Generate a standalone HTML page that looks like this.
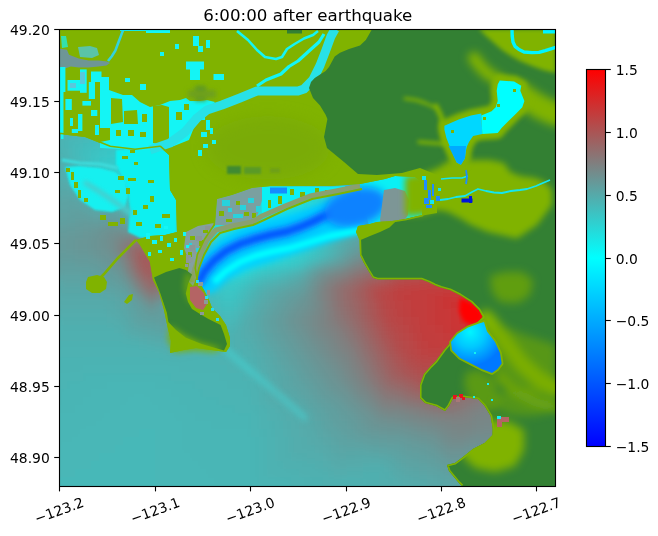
<!DOCTYPE html><html><head><meta charset="utf-8"><style>html,body{margin:0;padding:0;background:#fff;overflow:hidden}svg{display:block}text{font-family:"DejaVu Sans","Liberation Sans",sans-serif;fill:#000}</style></head><body>
<svg width="658" height="536" viewBox="0 0 658 536">
<defs><clipPath id="ax"><rect x="59" y="29" width="496.5" height="457"/></clipPath>
<filter id="b5" filterUnits="userSpaceOnUse" x="0" y="0" width="658" height="536"><feGaussianBlur stdDeviation="5"/></filter>
<filter id="b2" filterUnits="userSpaceOnUse" x="0" y="0" width="658" height="536"><feGaussianBlur stdDeviation="2"/></filter>
<filter id="b4" filterUnits="userSpaceOnUse" x="0" y="0" width="658" height="536"><feGaussianBlur stdDeviation="4"/></filter>
<filter id="b1" filterUnits="userSpaceOnUse" x="0" y="0" width="658" height="536"><feGaussianBlur stdDeviation="1"/></filter>
<filter id="b3" filterUnits="userSpaceOnUse" x="0" y="0" width="658" height="536"><feGaussianBlur stdDeviation="3"/></filter>
<filter id="b8" filterUnits="userSpaceOnUse" x="0" y="0" width="658" height="536"><feGaussianBlur stdDeviation="8"/></filter>
<linearGradient id="cb" x1="0" y1="1" x2="0" y2="0"><stop offset="0" stop-color="#0000ff"/><stop offset="0.5" stop-color="#00ffff"/><stop offset="1" stop-color="#ff0000"/></linearGradient>
<radialGradient id="bayg" gradientUnits="userSpaceOnUse" cx="470" cy="332" r="34"><stop offset="0" stop-color="#00f5ff"/><stop offset="0.45" stop-color="#00c8ff"/><stop offset="1" stop-color="#0078ff"/></radialGradient>
<clipPath id="landclip"><path d="M59 29 L556 29 L556 486 L462 486 L459 483 L449 471 L447 465 L455 463 L463 457 L473 449 L484.7 443 L492.6 435 L492.8 428.8 L490.7 416 L484.4 405.6 L478 399 L463 397 L453 398 L449 406 L445 411 L436 406 L425 403 L420 398 L420 385 L424 374 L431 366 L436 361 L444 350 L451 342 L457.5 334 L466 327 L476 323.5 L483 317 L479 310 L471 302 L460 295 L450 290 L441 287.6 L435 285.3 L429 282.3 L421.4 279.3 L377.4 279.3 L372.8 277.8 L368 270 L363.7 262.5 L360 255 L359.5 240 L356 232 L358 226 L370 224 L377 222 L392 221 L405 219 L422 215 L422 182 L415 177 L395 176 L385 179 L360 184 L330 186 L300 186 L270 186 L252 188 L232 195 L217 199 L215 225 L205 240 L198 255 L196 268 L198 280 L204 290 L209 300 L212 308 L220 316 L226 325 L230 338 L230 346 L226 352 L211 350 L196 348 L184 350 L170 353 L171 341 L168 329 L164 310 L159 292 L153 280 L150 262 L140 245 L136 240 L150 236 L165 235 L177 232 L176 200 L170 190 L169 155 L160 147 L135 150 L110 147 L85 137 L59 134Z"/></clipPath>
</defs>
<rect width="658" height="536" fill="#fff"/>
<g clip-path="url(#ax)">
<g filter="url(#b5)"><path fill="#33cccc" d="M43 13h8v8h-8zM51 13h8v8h-8zM59 13h8v8h-8zM67 13h8v8h-8zM75 13h8v8h-8zM83 13h8v8h-8zM91 13h8v8h-8zM99 13h8v8h-8zM107 13h8v8h-8zM115 13h8v8h-8zM123 13h8v8h-8zM131 13h8v8h-8zM139 13h8v8h-8zM147 13h8v8h-8zM155 13h8v8h-8zM163 13h8v8h-8zM171 13h8v8h-8zM179 13h8v8h-8zM187 13h8v8h-8zM195 13h8v8h-8zM203 13h8v8h-8zM211 13h8v8h-8zM219 13h8v8h-8zM227 13h8v8h-8zM235 13h8v8h-8zM243 13h8v8h-8zM251 13h8v8h-8zM259 13h8v8h-8zM267 13h8v8h-8zM275 13h8v8h-8zM283 13h8v8h-8zM291 13h8v8h-8zM299 13h8v8h-8zM307 13h8v8h-8zM315 13h8v8h-8zM323 13h8v8h-8zM331 13h8v8h-8zM339 13h8v8h-8zM347 13h8v8h-8zM355 13h8v8h-8zM363 13h8v8h-8zM371 13h8v8h-8zM379 13h8v8h-8zM387 13h8v8h-8zM395 13h8v8h-8zM403 13h8v8h-8zM411 13h8v8h-8zM419 13h8v8h-8zM427 13h8v8h-8zM435 13h8v8h-8zM443 13h8v8h-8zM451 13h8v8h-8zM459 13h8v8h-8zM467 13h8v8h-8zM475 13h8v8h-8zM483 13h8v8h-8zM491 13h8v8h-8zM499 13h8v8h-8zM507 13h8v8h-8zM515 13h8v8h-8zM523 13h8v8h-8zM531 13h8v8h-8zM539 13h8v8h-8zM547 13h8v8h-8zM555 13h8v8h-8zM563 13h8v8h-8zM571 13h8v8h-8zM43 21h8v8h-8zM51 21h8v8h-8zM59 21h8v8h-8zM67 21h8v8h-8zM75 21h8v8h-8zM83 21h8v8h-8zM91 21h8v8h-8zM99 21h8v8h-8zM107 21h8v8h-8zM115 21h8v8h-8zM123 21h8v8h-8zM131 21h8v8h-8zM139 21h8v8h-8zM147 21h8v8h-8zM155 21h8v8h-8zM163 21h8v8h-8zM171 21h8v8h-8zM179 21h8v8h-8zM187 21h8v8h-8zM195 21h8v8h-8zM203 21h8v8h-8zM211 21h8v8h-8zM219 21h8v8h-8zM227 21h8v8h-8zM235 21h8v8h-8zM243 21h8v8h-8zM251 21h8v8h-8zM259 21h8v8h-8zM267 21h8v8h-8zM275 21h8v8h-8zM283 21h8v8h-8zM291 21h8v8h-8zM299 21h8v8h-8zM307 21h8v8h-8zM315 21h8v8h-8zM323 21h8v8h-8zM331 21h8v8h-8zM339 21h8v8h-8zM347 21h8v8h-8zM355 21h8v8h-8zM363 21h8v8h-8zM371 21h8v8h-8zM379 21h8v8h-8zM387 21h8v8h-8zM395 21h8v8h-8zM403 21h8v8h-8zM411 21h8v8h-8zM419 21h8v8h-8zM427 21h8v8h-8zM435 21h8v8h-8zM443 21h8v8h-8zM451 21h8v8h-8zM459 21h8v8h-8zM467 21h8v8h-8zM475 21h8v8h-8zM483 21h8v8h-8zM491 21h8v8h-8zM499 21h8v8h-8zM507 21h8v8h-8zM515 21h8v8h-8zM523 21h8v8h-8zM531 21h8v8h-8zM539 21h8v8h-8zM547 21h8v8h-8zM555 21h8v8h-8zM563 21h8v8h-8zM571 21h8v8h-8zM43 29h8v8h-8zM51 29h8v8h-8zM59 29h8v8h-8zM67 29h8v8h-8zM75 29h8v8h-8zM83 29h8v8h-8zM91 29h8v8h-8zM99 29h8v8h-8zM107 29h8v8h-8zM115 29h8v8h-8zM123 29h8v8h-8zM131 29h8v8h-8zM139 29h8v8h-8zM147 29h8v8h-8zM155 29h8v8h-8zM163 29h8v8h-8zM171 29h8v8h-8zM179 29h8v8h-8zM187 29h8v8h-8zM195 29h8v8h-8zM203 29h8v8h-8zM211 29h8v8h-8zM219 29h8v8h-8zM227 29h8v8h-8zM235 29h8v8h-8zM243 29h8v8h-8zM251 29h8v8h-8zM259 29h8v8h-8zM267 29h8v8h-8zM275 29h8v8h-8zM283 29h8v8h-8zM291 29h8v8h-8zM555 29h8v8h-8zM563 29h8v8h-8zM571 29h8v8h-8zM43 37h8v8h-8zM51 37h8v8h-8zM75 37h8v8h-8zM83 37h8v8h-8zM91 37h8v8h-8zM99 37h8v8h-8zM107 37h8v8h-8zM115 37h8v8h-8zM123 37h8v8h-8zM131 37h8v8h-8zM139 37h8v8h-8zM147 37h8v8h-8zM155 37h8v8h-8zM163 37h8v8h-8zM171 37h8v8h-8zM179 37h8v8h-8zM187 37h8v8h-8zM195 37h8v8h-8zM203 37h8v8h-8zM211 37h8v8h-8zM219 37h8v8h-8zM227 37h8v8h-8zM235 37h8v8h-8zM243 37h8v8h-8zM251 37h8v8h-8zM259 37h8v8h-8zM267 37h8v8h-8zM275 37h8v8h-8zM283 37h8v8h-8zM299 37h8v8h-8zM555 37h8v8h-8zM563 37h8v8h-8zM571 37h8v8h-8zM43 45h8v8h-8zM51 45h8v8h-8zM91 45h8v8h-8zM99 45h8v8h-8zM107 45h8v8h-8zM115 45h8v8h-8zM123 45h8v8h-8zM131 45h8v8h-8zM139 45h8v8h-8zM147 45h8v8h-8zM155 45h8v8h-8zM163 45h8v8h-8zM171 45h8v8h-8zM179 45h8v8h-8zM187 45h8v8h-8zM195 45h8v8h-8zM203 45h8v8h-8zM211 45h8v8h-8zM219 45h8v8h-8zM227 45h8v8h-8zM235 45h8v8h-8zM243 45h8v8h-8zM251 45h8v8h-8zM259 45h8v8h-8zM267 45h8v8h-8zM299 45h8v8h-8zM555 45h8v8h-8zM563 45h8v8h-8zM571 45h8v8h-8zM43 53h8v8h-8zM51 53h8v8h-8zM107 53h8v8h-8zM115 53h8v8h-8zM123 53h8v8h-8zM131 53h8v8h-8zM139 53h8v8h-8zM147 53h8v8h-8zM155 53h8v8h-8zM163 53h8v8h-8zM171 53h8v8h-8zM179 53h8v8h-8zM187 53h8v8h-8zM195 53h8v8h-8zM203 53h8v8h-8zM211 53h8v8h-8zM219 53h8v8h-8zM227 53h8v8h-8zM235 53h8v8h-8zM243 53h8v8h-8zM251 53h8v8h-8zM259 53h8v8h-8zM555 53h8v8h-8zM563 53h8v8h-8zM571 53h8v8h-8zM43 61h8v8h-8zM51 61h8v8h-8zM123 61h8v8h-8zM131 61h8v8h-8zM139 61h8v8h-8zM147 61h8v8h-8zM155 61h8v8h-8zM163 61h8v8h-8zM171 61h8v8h-8zM179 61h8v8h-8zM187 61h8v8h-8zM195 61h8v8h-8zM203 61h8v8h-8zM211 61h8v8h-8zM219 61h8v8h-8zM227 61h8v8h-8zM235 61h8v8h-8zM243 61h8v8h-8zM251 61h8v8h-8zM555 61h8v8h-8zM563 61h8v8h-8zM571 61h8v8h-8zM43 69h8v8h-8zM51 69h8v8h-8zM139 69h8v8h-8zM147 69h8v8h-8zM155 69h8v8h-8zM163 69h8v8h-8zM171 69h8v8h-8zM179 69h8v8h-8zM187 69h8v8h-8zM195 69h8v8h-8zM203 69h8v8h-8zM211 69h8v8h-8zM219 69h8v8h-8zM227 69h8v8h-8zM235 69h8v8h-8zM555 69h8v8h-8zM563 69h8v8h-8zM571 69h8v8h-8zM43 77h8v8h-8zM51 77h8v8h-8zM155 77h8v8h-8zM163 77h8v8h-8zM171 77h8v8h-8zM179 77h8v8h-8zM187 77h8v8h-8zM195 77h8v8h-8zM203 77h8v8h-8zM211 77h8v8h-8zM219 77h8v8h-8zM227 77h8v8h-8zM307 77h8v8h-8zM555 77h8v8h-8zM563 77h8v8h-8zM571 77h8v8h-8zM171 85h8v8h-8zM179 85h8v8h-8zM187 85h8v8h-8zM195 85h8v8h-8zM203 85h8v8h-8zM211 85h8v8h-8zM307 85h8v8h-8zM555 85h8v8h-8zM563 85h8v8h-8zM571 85h8v8h-8zM187 93h8v8h-8zM195 93h8v8h-8zM203 93h8v8h-8zM179 109h8v8h-8zM171 117h8v8h-8zM315 125h8v8h-8zM147 133h8v8h-8zM139 141h8v8h-8zM107 165h8v8h-8zM323 165h8v8h-8zM195 213h8v8h-8zM307 229h8v8h-8z"/>
<path fill="#34cbcb" d="M299 29h8v8h-8zM307 29h8v8h-8zM315 29h8v8h-8zM323 29h8v8h-8zM331 29h8v8h-8zM339 29h8v8h-8zM347 29h8v8h-8zM355 29h8v8h-8zM363 29h8v8h-8zM371 29h8v8h-8zM379 29h8v8h-8zM387 29h8v8h-8zM395 29h8v8h-8zM403 29h8v8h-8zM411 29h8v8h-8zM419 29h8v8h-8zM427 29h8v8h-8zM435 29h8v8h-8zM443 29h8v8h-8zM451 29h8v8h-8zM459 29h8v8h-8zM467 29h8v8h-8zM475 29h8v8h-8zM483 29h8v8h-8zM491 29h8v8h-8zM499 29h8v8h-8zM507 29h8v8h-8zM515 29h8v8h-8zM523 29h8v8h-8zM531 29h8v8h-8zM539 29h8v8h-8zM547 29h8v8h-8zM67 37h8v8h-8zM83 45h8v8h-8zM99 53h8v8h-8zM115 61h8v8h-8zM131 69h8v8h-8zM307 69h8v8h-8zM147 77h8v8h-8zM163 85h8v8h-8zM179 93h8v8h-8zM187 101h8v8h-8zM315 109h8v8h-8zM315 117h8v8h-8zM155 125h8v8h-8zM123 149h8v8h-8zM323 149h8v8h-8zM115 157h8v8h-8zM323 157h8v8h-8zM203 229h8v8h-8zM299 253h8v8h-8zM251 269h8v8h-8zM235 277h8v8h-8z"/>
<path fill="#35caca" d="M59 37h8v8h-8zM307 37h8v8h-8zM315 37h8v8h-8zM323 37h8v8h-8zM331 37h8v8h-8zM339 37h8v8h-8zM347 37h8v8h-8zM355 37h8v8h-8zM363 37h8v8h-8zM371 37h8v8h-8zM379 37h8v8h-8zM387 37h8v8h-8zM395 37h8v8h-8zM403 37h8v8h-8zM411 37h8v8h-8zM419 37h8v8h-8zM427 37h8v8h-8zM435 37h8v8h-8zM443 37h8v8h-8zM451 37h8v8h-8zM459 37h8v8h-8zM467 37h8v8h-8zM475 37h8v8h-8zM483 37h8v8h-8zM491 37h8v8h-8zM499 37h8v8h-8zM507 37h8v8h-8zM515 37h8v8h-8zM523 37h8v8h-8zM531 37h8v8h-8zM539 37h8v8h-8zM547 37h8v8h-8zM75 45h8v8h-8zM91 53h8v8h-8zM107 61h8v8h-8zM307 61h8v8h-8zM123 69h8v8h-8zM139 77h8v8h-8zM155 85h8v8h-8zM171 93h8v8h-8zM315 101h8v8h-8zM171 109h8v8h-8zM163 117h8v8h-8zM131 141h8v8h-8zM323 141h8v8h-8zM331 181h8v8h-8zM331 189h8v8h-8zM331 197h8v8h-8zM307 237h8v8h-8zM283 261h8v8h-8z"/>
<path fill="#32cdcd" d="M291 37h8v8h-8zM275 45h8v8h-8zM283 45h8v8h-8zM267 53h8v8h-8zM275 53h8v8h-8zM299 53h8v8h-8zM259 61h8v8h-8zM243 69h8v8h-8zM251 69h8v8h-8zM235 77h8v8h-8zM243 77h8v8h-8zM219 85h8v8h-8zM227 85h8v8h-8zM211 93h8v8h-8zM219 93h8v8h-8zM307 93h8v8h-8zM195 101h8v8h-8zM203 101h8v8h-8zM163 125h8v8h-8zM155 133h8v8h-8zM315 133h8v8h-8zM131 149h8v8h-8zM123 157h8v8h-8zM323 173h8v8h-8zM315 205h8v8h-8zM299 245h8v8h-8zM275 261h8v8h-8z"/>
<path fill="#37c8c8" d="M59 45h8v8h-8zM307 45h8v8h-8zM315 45h8v8h-8zM323 45h8v8h-8zM331 45h8v8h-8zM339 45h8v8h-8zM347 45h8v8h-8zM355 45h8v8h-8zM363 45h8v8h-8zM371 45h8v8h-8zM379 45h8v8h-8zM387 45h8v8h-8zM395 45h8v8h-8zM403 45h8v8h-8zM411 45h8v8h-8zM419 45h8v8h-8zM427 45h8v8h-8zM435 45h8v8h-8zM443 45h8v8h-8zM451 45h8v8h-8zM459 45h8v8h-8zM467 45h8v8h-8zM475 45h8v8h-8zM483 45h8v8h-8zM491 45h8v8h-8zM499 45h8v8h-8zM507 45h8v8h-8zM515 45h8v8h-8zM523 45h8v8h-8zM531 45h8v8h-8zM539 45h8v8h-8zM75 53h8v8h-8zM547 53h8v8h-8zM91 61h8v8h-8zM107 69h8v8h-8zM123 77h8v8h-8zM139 85h8v8h-8zM315 85h8v8h-8zM155 93h8v8h-8zM171 101h8v8h-8zM155 117h8v8h-8zM323 125h8v8h-8zM123 141h8v8h-8zM115 149h8v8h-8zM99 165h8v8h-8zM331 165h8v8h-8zM131 197h8v8h-8zM187 205h8v8h-8zM315 213h8v8h-8z"/>
<path fill="#36c9c9" d="M67 45h8v8h-8zM547 45h8v8h-8zM83 53h8v8h-8zM307 53h8v8h-8zM99 61h8v8h-8zM115 69h8v8h-8zM131 77h8v8h-8zM147 85h8v8h-8zM163 93h8v8h-8zM315 93h8v8h-8zM179 101h8v8h-8zM147 125h8v8h-8zM139 133h8v8h-8zM323 133h8v8h-8zM107 157h8v8h-8zM331 173h8v8h-8zM139 205h8v8h-8zM323 205h8v8h-8zM211 245h8v8h-8zM227 285h8v8h-8z"/>
<path fill="#31cece" d="M291 45h8v8h-8zM283 53h8v8h-8zM291 53h8v8h-8zM267 61h8v8h-8zM275 61h8v8h-8zM299 61h8v8h-8zM259 69h8v8h-8zM267 69h8v8h-8zM251 77h8v8h-8zM235 85h8v8h-8zM243 85h8v8h-8zM227 93h8v8h-8zM235 93h8v8h-8zM211 101h8v8h-8zM219 101h8v8h-8zM307 101h8v8h-8zM187 109h8v8h-8zM195 109h8v8h-8zM203 109h8v8h-8zM211 109h8v8h-8zM179 117h8v8h-8zM147 141h8v8h-8zM315 141h8v8h-8zM139 149h8v8h-8zM115 165h8v8h-8zM323 181h8v8h-8zM307 221h8v8h-8zM219 253h8v8h-8zM227 277h8v8h-8z"/>
<path fill="#39c6c6" d="M59 53h8v8h-8zM315 53h8v8h-8zM323 53h8v8h-8zM331 53h8v8h-8zM339 53h8v8h-8zM347 53h8v8h-8zM355 53h8v8h-8zM363 53h8v8h-8zM371 53h8v8h-8zM379 53h8v8h-8zM387 53h8v8h-8zM395 53h8v8h-8zM403 53h8v8h-8zM411 53h8v8h-8zM419 53h8v8h-8zM427 53h8v8h-8zM435 53h8v8h-8zM443 53h8v8h-8zM451 53h8v8h-8zM459 53h8v8h-8zM467 53h8v8h-8zM475 53h8v8h-8zM483 53h8v8h-8zM491 53h8v8h-8zM499 53h8v8h-8zM507 53h8v8h-8zM515 53h8v8h-8zM523 53h8v8h-8zM75 61h8v8h-8zM315 61h8v8h-8zM531 61h8v8h-8zM539 61h8v8h-8zM91 69h8v8h-8zM107 77h8v8h-8zM123 85h8v8h-8zM139 93h8v8h-8zM155 101h8v8h-8zM323 101h8v8h-8zM147 117h8v8h-8zM139 125h8v8h-8zM331 141h8v8h-8zM107 149h8v8h-8zM331 149h8v8h-8zM115 181h8v8h-8zM339 181h8v8h-8zM339 189h8v8h-8zM339 197h8v8h-8zM315 221h8v8h-8z"/>
<path fill="#38c7c7" d="M67 53h8v8h-8zM531 53h8v8h-8zM539 53h8v8h-8zM83 61h8v8h-8zM547 61h8v8h-8zM99 69h8v8h-8zM315 69h8v8h-8zM115 77h8v8h-8zM315 77h8v8h-8zM131 85h8v8h-8zM147 93h8v8h-8zM163 101h8v8h-8zM163 109h8v8h-8zM323 109h8v8h-8zM323 117h8v8h-8zM131 133h8v8h-8zM99 157h8v8h-8zM331 157h8v8h-8zM123 189h8v8h-8zM147 205h8v8h-8zM155 205h8v8h-8zM163 205h8v8h-8zM171 205h8v8h-8zM179 205h8v8h-8zM307 245h8v8h-8zM219 261h8v8h-8zM291 261h8v8h-8zM219 285h8v8h-8z"/>
<path fill="#3bc4c4" d="M59 61h8v8h-8zM75 69h8v8h-8zM523 69h8v8h-8zM531 69h8v8h-8zM91 77h8v8h-8zM539 77h8v8h-8zM547 77h8v8h-8zM107 85h8v8h-8zM323 85h8v8h-8zM123 93h8v8h-8zM139 101h8v8h-8zM131 125h8v8h-8zM331 125h8v8h-8zM99 149h8v8h-8zM91 157h8v8h-8zM339 165h8v8h-8zM323 213h8v8h-8zM203 237h8v8h-8zM315 237h8v8h-8zM243 277h8v8h-8z"/>
<path fill="#3ac5c5" d="M67 61h8v8h-8zM323 61h8v8h-8zM331 61h8v8h-8zM339 61h8v8h-8zM347 61h8v8h-8zM355 61h8v8h-8zM363 61h8v8h-8zM371 61h8v8h-8zM379 61h8v8h-8zM387 61h8v8h-8zM395 61h8v8h-8zM403 61h8v8h-8zM411 61h8v8h-8zM419 61h8v8h-8zM427 61h8v8h-8zM435 61h8v8h-8zM443 61h8v8h-8zM451 61h8v8h-8zM459 61h8v8h-8zM467 61h8v8h-8zM475 61h8v8h-8zM483 61h8v8h-8zM491 61h8v8h-8zM499 61h8v8h-8zM507 61h8v8h-8zM515 61h8v8h-8zM523 61h8v8h-8zM83 69h8v8h-8zM539 69h8v8h-8zM547 69h8v8h-8zM99 77h8v8h-8zM115 85h8v8h-8zM131 93h8v8h-8zM323 93h8v8h-8zM147 101h8v8h-8zM155 109h8v8h-8zM123 133h8v8h-8zM331 133h8v8h-8zM115 141h8v8h-8zM107 173h8v8h-8zM339 173h8v8h-8zM331 205h8v8h-8zM195 221h8v8h-8zM315 229h8v8h-8zM307 253h8v8h-8zM259 269h8v8h-8zM227 293h8v8h-8z"/>
<path fill="#30cfcf" d="M283 61h8v8h-8zM291 61h8v8h-8zM275 69h8v8h-8zM283 69h8v8h-8zM299 69h8v8h-8zM259 77h8v8h-8zM267 77h8v8h-8zM251 85h8v8h-8zM259 85h8v8h-8zM243 93h8v8h-8zM227 101h8v8h-8zM235 101h8v8h-8zM219 109h8v8h-8zM227 109h8v8h-8zM307 109h8v8h-8zM171 125h8v8h-8zM163 133h8v8h-8zM315 149h8v8h-8zM131 157h8v8h-8zM315 157h8v8h-8zM123 165h8v8h-8zM323 189h8v8h-8zM323 197h8v8h-8zM291 253h8v8h-8zM227 269h8v8h-8z"/>
<path fill="#3dc2c2" d="M59 69h8v8h-8zM75 77h8v8h-8zM331 77h8v8h-8zM339 77h8v8h-8zM347 77h8v8h-8zM355 77h8v8h-8zM363 77h8v8h-8zM371 77h8v8h-8zM379 77h8v8h-8zM387 77h8v8h-8zM395 77h8v8h-8zM403 77h8v8h-8zM411 77h8v8h-8zM419 77h8v8h-8zM427 77h8v8h-8zM435 77h8v8h-8zM443 77h8v8h-8zM451 77h8v8h-8zM459 77h8v8h-8zM467 77h8v8h-8zM475 77h8v8h-8zM483 77h8v8h-8zM491 77h8v8h-8zM499 77h8v8h-8zM507 77h8v8h-8zM515 77h8v8h-8zM91 85h8v8h-8zM523 85h8v8h-8zM531 85h8v8h-8zM107 93h8v8h-8zM539 93h8v8h-8zM547 93h8v8h-8zM123 101h8v8h-8zM331 101h8v8h-8zM139 109h8v8h-8zM123 125h8v8h-8zM115 133h8v8h-8zM339 141h8v8h-8zM91 149h8v8h-8zM339 149h8v8h-8zM347 189h8v8h-8zM347 197h8v8h-8zM211 253h8v8h-8zM219 277h8v8h-8zM235 285h8v8h-8z"/>
<path fill="#3cc3c3" d="M67 69h8v8h-8zM323 69h8v8h-8zM331 69h8v8h-8zM339 69h8v8h-8zM347 69h8v8h-8zM355 69h8v8h-8zM363 69h8v8h-8zM371 69h8v8h-8zM379 69h8v8h-8zM387 69h8v8h-8zM395 69h8v8h-8zM403 69h8v8h-8zM411 69h8v8h-8zM419 69h8v8h-8zM427 69h8v8h-8zM435 69h8v8h-8zM443 69h8v8h-8zM451 69h8v8h-8zM459 69h8v8h-8zM467 69h8v8h-8zM475 69h8v8h-8zM483 69h8v8h-8zM491 69h8v8h-8zM499 69h8v8h-8zM507 69h8v8h-8zM515 69h8v8h-8zM83 77h8v8h-8zM323 77h8v8h-8zM523 77h8v8h-8zM531 77h8v8h-8zM99 85h8v8h-8zM539 85h8v8h-8zM547 85h8v8h-8zM115 93h8v8h-8zM131 101h8v8h-8zM147 109h8v8h-8zM331 109h8v8h-8zM139 117h8v8h-8zM331 117h8v8h-8zM107 141h8v8h-8zM339 157h8v8h-8zM91 165h8v8h-8zM99 173h8v8h-8zM219 269h8v8h-8zM219 293h8v8h-8z"/>
<path fill="#2fd0d0" d="M291 69h8v8h-8zM275 77h8v8h-8zM283 77h8v8h-8zM299 77h8v8h-8zM267 85h8v8h-8zM275 85h8v8h-8zM299 85h8v8h-8zM251 93h8v8h-8zM259 93h8v8h-8zM243 101h8v8h-8zM251 101h8v8h-8zM235 109h8v8h-8zM187 117h8v8h-8zM195 117h8v8h-8zM203 117h8v8h-8zM211 117h8v8h-8zM219 117h8v8h-8zM227 117h8v8h-8zM307 117h8v8h-8zM179 125h8v8h-8zM307 125h8v8h-8zM155 141h8v8h-8zM147 149h8v8h-8zM315 165h8v8h-8zM115 173h8v8h-8zM307 213h8v8h-8zM211 237h8v8h-8zM299 237h8v8h-8zM267 261h8v8h-8z"/>
<path fill="#3ec1c1" d="M59 77h8v8h-8zM67 77h8v8h-8zM75 85h8v8h-8zM83 85h8v8h-8zM507 85h8v8h-8zM515 85h8v8h-8zM91 93h8v8h-8zM99 93h8v8h-8zM331 93h8v8h-8zM523 93h8v8h-8zM531 93h8v8h-8zM107 101h8v8h-8zM115 101h8v8h-8zM547 101h8v8h-8zM123 109h8v8h-8zM131 109h8v8h-8zM131 117h8v8h-8zM339 133h8v8h-8zM99 141h8v8h-8zM347 173h8v8h-8zM347 181h8v8h-8zM339 205h8v8h-8zM315 245h8v8h-8zM267 269h8v8h-8zM211 285h8v8h-8zM227 301h8v8h-8z"/>
<path fill="#2ed1d1" d="M291 77h8v8h-8zM283 85h8v8h-8zM267 93h8v8h-8zM275 93h8v8h-8zM299 93h8v8h-8zM259 101h8v8h-8zM243 109h8v8h-8zM251 109h8v8h-8zM235 117h8v8h-8zM243 117h8v8h-8zM187 125h8v8h-8zM195 125h8v8h-8zM203 125h8v8h-8zM211 125h8v8h-8zM219 125h8v8h-8zM227 125h8v8h-8zM171 133h8v8h-8zM307 133h8v8h-8zM163 141h8v8h-8zM139 157h8v8h-8zM131 165h8v8h-8zM315 173h8v8h-8zM123 181h8v8h-8zM291 245h8v8h-8z"/>
<path fill="#4cb2b2" d="M43 85h8v8h-8zM51 85h8v8h-8zM43 93h8v8h-8zM51 93h8v8h-8zM43 101h8v8h-8zM51 101h8v8h-8zM43 109h8v8h-8zM51 109h8v8h-8zM43 117h8v8h-8zM51 117h8v8h-8zM43 125h8v8h-8zM51 125h8v8h-8zM43 133h8v8h-8zM51 133h8v8h-8zM43 141h8v8h-8zM51 141h8v8h-8zM43 149h8v8h-8zM51 149h8v8h-8z"/>
<path fill="#40bfbf" d="M59 85h8v8h-8zM75 93h8v8h-8zM491 93h8v8h-8zM499 93h8v8h-8zM91 101h8v8h-8zM515 101h8v8h-8zM523 101h8v8h-8zM107 109h8v8h-8zM531 109h8v8h-8zM539 109h8v8h-8zM123 117h8v8h-8zM339 117h8v8h-8zM547 117h8v8h-8zM91 141h8v8h-8zM83 149h8v8h-8zM347 157h8v8h-8zM91 173h8v8h-8zM323 221h8v8h-8zM315 253h8v8h-8zM211 293h8v8h-8zM235 293h8v8h-8zM219 301h8v8h-8z"/>
<path fill="#3fc0c0" d="M67 85h8v8h-8zM331 85h8v8h-8zM339 85h8v8h-8zM347 85h8v8h-8zM355 85h8v8h-8zM363 85h8v8h-8zM371 85h8v8h-8zM379 85h8v8h-8zM387 85h8v8h-8zM395 85h8v8h-8zM403 85h8v8h-8zM411 85h8v8h-8zM419 85h8v8h-8zM427 85h8v8h-8zM435 85h8v8h-8zM443 85h8v8h-8zM451 85h8v8h-8zM459 85h8v8h-8zM467 85h8v8h-8zM475 85h8v8h-8zM483 85h8v8h-8zM491 85h8v8h-8zM499 85h8v8h-8zM83 93h8v8h-8zM507 93h8v8h-8zM515 93h8v8h-8zM99 101h8v8h-8zM531 101h8v8h-8zM539 101h8v8h-8zM115 109h8v8h-8zM547 109h8v8h-8zM115 125h8v8h-8zM339 125h8v8h-8zM107 133h8v8h-8zM83 157h8v8h-8zM347 165h8v8h-8zM187 213h8v8h-8zM331 213h8v8h-8zM299 261h8v8h-8z"/>
<path fill="#2dd2d2" d="M291 85h8v8h-8zM283 93h8v8h-8zM291 93h8v8h-8zM267 101h8v8h-8zM275 101h8v8h-8zM299 101h8v8h-8zM259 109h8v8h-8zM267 109h8v8h-8zM251 117h8v8h-8zM235 125h8v8h-8zM243 125h8v8h-8zM179 133h8v8h-8zM187 133h8v8h-8zM195 133h8v8h-8zM203 133h8v8h-8zM211 133h8v8h-8zM219 133h8v8h-8zM227 133h8v8h-8zM235 133h8v8h-8zM307 141h8v8h-8zM155 149h8v8h-8zM147 157h8v8h-8zM123 173h8v8h-8zM315 181h8v8h-8zM131 189h8v8h-8zM307 205h8v8h-8zM203 221h8v8h-8zM299 229h8v8h-8zM283 253h8v8h-8zM243 269h8v8h-8z"/>
<path fill="#42bdbd" d="M59 93h8v8h-8zM75 101h8v8h-8zM347 101h8v8h-8zM355 101h8v8h-8zM363 101h8v8h-8zM371 101h8v8h-8zM379 101h8v8h-8zM387 101h8v8h-8zM395 101h8v8h-8zM403 101h8v8h-8zM411 101h8v8h-8zM419 101h8v8h-8zM427 101h8v8h-8zM435 101h8v8h-8zM443 101h8v8h-8zM451 101h8v8h-8zM459 101h8v8h-8zM467 101h8v8h-8zM475 101h8v8h-8zM483 101h8v8h-8zM491 101h8v8h-8zM91 109h8v8h-8zM499 109h8v8h-8zM507 109h8v8h-8zM107 117h8v8h-8zM515 117h8v8h-8zM523 117h8v8h-8zM107 125h8v8h-8zM531 125h8v8h-8zM539 125h8v8h-8zM347 133h8v8h-8zM547 133h8v8h-8zM355 173h8v8h-8zM107 181h8v8h-8zM355 181h8v8h-8zM123 197h8v8h-8zM347 205h8v8h-8zM323 229h8v8h-8zM203 245h8v8h-8zM275 269h8v8h-8zM227 309h8v8h-8z"/>
<path fill="#41bebe" d="M67 93h8v8h-8zM339 93h8v8h-8zM347 93h8v8h-8zM355 93h8v8h-8zM363 93h8v8h-8zM371 93h8v8h-8zM379 93h8v8h-8zM387 93h8v8h-8zM395 93h8v8h-8zM403 93h8v8h-8zM411 93h8v8h-8zM419 93h8v8h-8zM427 93h8v8h-8zM435 93h8v8h-8zM443 93h8v8h-8zM451 93h8v8h-8zM459 93h8v8h-8zM467 93h8v8h-8zM475 93h8v8h-8zM483 93h8v8h-8zM83 101h8v8h-8zM339 101h8v8h-8zM499 101h8v8h-8zM507 101h8v8h-8zM99 109h8v8h-8zM339 109h8v8h-8zM515 109h8v8h-8zM523 109h8v8h-8zM115 117h8v8h-8zM531 117h8v8h-8zM539 117h8v8h-8zM547 125h8v8h-8zM99 133h8v8h-8zM347 141h8v8h-8zM347 149h8v8h-8zM83 165h8v8h-8zM99 181h8v8h-8zM355 189h8v8h-8zM355 197h8v8h-8zM131 205h8v8h-8zM195 229h8v8h-8zM251 277h8v8h-8z"/>
<path fill="#44bbbb" d="M555 93h8v8h-8zM563 93h8v8h-8zM571 93h8v8h-8zM59 101h8v8h-8zM555 101h8v8h-8zM563 101h8v8h-8zM571 101h8v8h-8zM75 109h8v8h-8zM347 109h8v8h-8zM355 109h8v8h-8zM363 109h8v8h-8zM371 109h8v8h-8zM379 109h8v8h-8zM387 109h8v8h-8zM395 109h8v8h-8zM403 109h8v8h-8zM411 109h8v8h-8zM419 109h8v8h-8zM427 109h8v8h-8zM435 109h8v8h-8zM443 109h8v8h-8zM451 109h8v8h-8zM459 109h8v8h-8zM467 109h8v8h-8zM475 109h8v8h-8zM555 109h8v8h-8zM563 109h8v8h-8zM571 109h8v8h-8zM91 117h8v8h-8zM347 117h8v8h-8zM483 117h8v8h-8zM491 117h8v8h-8zM555 117h8v8h-8zM563 117h8v8h-8zM571 117h8v8h-8zM99 125h8v8h-8zM499 125h8v8h-8zM507 125h8v8h-8zM555 125h8v8h-8zM563 125h8v8h-8zM571 125h8v8h-8zM523 133h8v8h-8zM531 133h8v8h-8zM555 133h8v8h-8zM563 133h8v8h-8zM571 133h8v8h-8zM539 141h8v8h-8zM547 141h8v8h-8zM555 141h8v8h-8zM563 141h8v8h-8zM571 141h8v8h-8zM555 149h8v8h-8zM563 149h8v8h-8zM571 149h8v8h-8zM75 157h8v8h-8zM355 157h8v8h-8zM555 157h8v8h-8zM563 157h8v8h-8zM571 157h8v8h-8zM555 165h8v8h-8zM563 165h8v8h-8zM571 165h8v8h-8zM83 173h8v8h-8zM555 173h8v8h-8zM563 173h8v8h-8zM571 173h8v8h-8zM555 181h8v8h-8zM563 181h8v8h-8zM571 181h8v8h-8zM555 189h8v8h-8zM563 189h8v8h-8zM571 189h8v8h-8zM555 197h8v8h-8zM563 197h8v8h-8zM571 197h8v8h-8zM555 205h8v8h-8zM563 205h8v8h-8zM571 205h8v8h-8zM555 213h8v8h-8zM563 213h8v8h-8zM571 213h8v8h-8zM331 221h8v8h-8zM571 221h8v8h-8zM323 245h8v8h-8zM211 261h8v8h-8zM203 293h8v8h-8zM211 301h8v8h-8zM235 301h8v8h-8zM219 309h8v8h-8z"/>
<path fill="#43bcbc" d="M67 101h8v8h-8zM83 109h8v8h-8zM483 109h8v8h-8zM491 109h8v8h-8zM99 117h8v8h-8zM499 117h8v8h-8zM507 117h8v8h-8zM347 125h8v8h-8zM515 125h8v8h-8zM523 125h8v8h-8zM91 133h8v8h-8zM539 133h8v8h-8zM83 141h8v8h-8zM75 149h8v8h-8zM355 165h8v8h-8zM115 189h8v8h-8zM339 213h8v8h-8zM323 237h8v8h-8zM243 285h8v8h-8z"/>
<path fill="#2cd3d3" d="M283 101h8v8h-8zM291 101h8v8h-8zM275 109h8v8h-8zM283 109h8v8h-8zM299 109h8v8h-8zM259 117h8v8h-8zM267 117h8v8h-8zM251 125h8v8h-8zM259 125h8v8h-8zM243 133h8v8h-8zM171 141h8v8h-8zM307 149h8v8h-8zM139 165h8v8h-8zM131 173h8v8h-8zM315 189h8v8h-8zM139 197h8v8h-8zM315 197h8v8h-8zM291 237h8v8h-8zM259 261h8v8h-8z"/>
<path fill="#46b9b9" d="M59 109h8v8h-8zM75 117h8v8h-8zM91 125h8v8h-8zM467 125h8v8h-8zM475 125h8v8h-8zM83 133h8v8h-8zM355 133h8v8h-8zM491 133h8v8h-8zM499 133h8v8h-8zM355 141h8v8h-8zM507 141h8v8h-8zM515 141h8v8h-8zM523 149h8v8h-8zM531 149h8v8h-8zM547 149h8v8h-8zM75 165h8v8h-8zM363 173h8v8h-8zM363 181h8v8h-8zM355 205h8v8h-8zM187 221h8v8h-8zM227 317h8v8h-8z"/>
<path fill="#45baba" d="M67 109h8v8h-8zM83 117h8v8h-8zM355 117h8v8h-8zM363 117h8v8h-8zM371 117h8v8h-8zM379 117h8v8h-8zM387 117h8v8h-8zM395 117h8v8h-8zM403 117h8v8h-8zM411 117h8v8h-8zM419 117h8v8h-8zM427 117h8v8h-8zM435 117h8v8h-8zM443 117h8v8h-8zM451 117h8v8h-8zM459 117h8v8h-8zM467 117h8v8h-8zM475 117h8v8h-8zM483 125h8v8h-8zM491 125h8v8h-8zM507 133h8v8h-8zM515 133h8v8h-8zM75 141h8v8h-8zM523 141h8v8h-8zM531 141h8v8h-8zM355 149h8v8h-8zM539 149h8v8h-8zM91 181h8v8h-8zM363 189h8v8h-8zM363 197h8v8h-8z"/>
<path fill="#2bd4d4" d="M291 109h8v8h-8zM275 117h8v8h-8zM283 117h8v8h-8zM299 117h8v8h-8zM267 125h8v8h-8zM275 125h8v8h-8zM299 125h8v8h-8zM251 133h8v8h-8zM259 133h8v8h-8zM179 141h8v8h-8zM187 141h8v8h-8zM195 141h8v8h-8zM203 141h8v8h-8zM211 141h8v8h-8zM219 141h8v8h-8zM227 141h8v8h-8zM235 141h8v8h-8zM243 141h8v8h-8zM251 141h8v8h-8zM163 149h8v8h-8zM155 157h8v8h-8zM307 157h8v8h-8zM307 165h8v8h-8zM195 205h8v8h-8zM299 221h8v8h-8zM283 245h8v8h-8zM227 261h8v8h-8z"/>
<path fill="#48b7b7" d="M59 117h8v8h-8zM75 125h8v8h-8zM75 133h8v8h-8zM363 133h8v8h-8zM371 133h8v8h-8zM379 133h8v8h-8zM387 133h8v8h-8zM395 133h8v8h-8zM403 133h8v8h-8zM411 133h8v8h-8zM419 133h8v8h-8zM427 133h8v8h-8zM435 133h8v8h-8zM443 133h8v8h-8zM451 133h8v8h-8zM459 133h8v8h-8zM467 133h8v8h-8zM475 141h8v8h-8zM483 141h8v8h-8zM67 149h8v8h-8zM491 149h8v8h-8zM499 149h8v8h-8zM363 157h8v8h-8zM507 157h8v8h-8zM515 157h8v8h-8zM75 173h8v8h-8zM339 221h8v8h-8zM195 237h8v8h-8zM195 293h8v8h-8zM203 301h8v8h-8zM211 309h8v8h-8zM235 309h8v8h-8zM219 317h8v8h-8zM131 397h8v8h-8zM139 397h8v8h-8zM123 405h8v8h-8zM131 405h8v8h-8zM139 405h8v8h-8zM147 405h8v8h-8zM107 413h8v8h-8zM115 413h8v8h-8zM123 413h8v8h-8zM131 413h8v8h-8zM139 413h8v8h-8zM147 413h8v8h-8zM155 413h8v8h-8zM163 413h8v8h-8zM99 421h8v8h-8zM107 421h8v8h-8zM115 421h8v8h-8zM123 421h8v8h-8zM131 421h8v8h-8zM139 421h8v8h-8zM147 421h8v8h-8zM155 421h8v8h-8zM163 421h8v8h-8zM171 421h8v8h-8zM83 429h8v8h-8zM91 429h8v8h-8zM99 429h8v8h-8zM107 429h8v8h-8zM115 429h8v8h-8zM123 429h8v8h-8zM131 429h8v8h-8zM155 429h8v8h-8zM163 429h8v8h-8zM171 429h8v8h-8zM75 437h8v8h-8zM83 437h8v8h-8zM91 437h8v8h-8zM99 437h8v8h-8zM107 437h8v8h-8zM115 437h8v8h-8zM155 437h8v8h-8zM163 437h8v8h-8zM171 437h8v8h-8zM59 445h8v8h-8zM67 445h8v8h-8zM75 445h8v8h-8zM83 445h8v8h-8zM91 445h8v8h-8zM99 445h8v8h-8zM107 445h8v8h-8zM155 445h8v8h-8zM163 445h8v8h-8zM171 445h8v8h-8zM59 453h8v8h-8zM67 453h8v8h-8zM75 453h8v8h-8zM83 453h8v8h-8zM91 453h8v8h-8zM155 453h8v8h-8zM163 453h8v8h-8zM171 453h8v8h-8zM179 453h8v8h-8zM59 461h8v8h-8zM67 461h8v8h-8zM75 461h8v8h-8zM83 461h8v8h-8zM155 461h8v8h-8zM163 461h8v8h-8zM171 461h8v8h-8zM179 461h8v8h-8zM187 461h8v8h-8zM59 469h8v8h-8zM67 469h8v8h-8zM155 469h8v8h-8zM163 469h8v8h-8zM171 469h8v8h-8zM179 469h8v8h-8zM187 469h8v8h-8zM195 469h8v8h-8zM155 477h8v8h-8zM163 477h8v8h-8zM171 477h8v8h-8zM179 477h8v8h-8zM187 477h8v8h-8zM195 477h8v8h-8zM203 477h8v8h-8z"/>
<path fill="#47b8b8" d="M67 117h8v8h-8zM83 125h8v8h-8zM355 125h8v8h-8zM363 125h8v8h-8zM371 125h8v8h-8zM379 125h8v8h-8zM387 125h8v8h-8zM395 125h8v8h-8zM403 125h8v8h-8zM411 125h8v8h-8zM419 125h8v8h-8zM427 125h8v8h-8zM435 125h8v8h-8zM443 125h8v8h-8zM451 125h8v8h-8zM459 125h8v8h-8zM475 133h8v8h-8zM483 133h8v8h-8zM67 141h8v8h-8zM491 141h8v8h-8zM499 141h8v8h-8zM507 149h8v8h-8zM515 149h8v8h-8zM363 165h8v8h-8zM99 189h8v8h-8zM347 213h8v8h-8zM211 269h8v8h-8zM283 269h8v8h-8zM259 277h8v8h-8zM243 293h8v8h-8zM139 429h8v8h-8zM147 429h8v8h-8zM123 437h8v8h-8zM131 437h8v8h-8zM139 437h8v8h-8zM147 437h8v8h-8zM115 445h8v8h-8zM123 445h8v8h-8zM131 445h8v8h-8zM139 445h8v8h-8zM147 445h8v8h-8zM99 453h8v8h-8zM107 453h8v8h-8zM115 453h8v8h-8zM123 453h8v8h-8zM131 453h8v8h-8zM139 453h8v8h-8zM147 453h8v8h-8zM43 461h8v8h-8zM51 461h8v8h-8zM91 461h8v8h-8zM99 461h8v8h-8zM107 461h8v8h-8zM115 461h8v8h-8zM123 461h8v8h-8zM131 461h8v8h-8zM139 461h8v8h-8zM147 461h8v8h-8zM43 469h8v8h-8zM51 469h8v8h-8zM75 469h8v8h-8zM83 469h8v8h-8zM91 469h8v8h-8zM99 469h8v8h-8zM107 469h8v8h-8zM115 469h8v8h-8zM123 469h8v8h-8zM131 469h8v8h-8zM139 469h8v8h-8zM147 469h8v8h-8zM43 477h8v8h-8zM51 477h8v8h-8zM59 477h8v8h-8zM67 477h8v8h-8zM75 477h8v8h-8zM83 477h8v8h-8zM91 477h8v8h-8zM99 477h8v8h-8zM107 477h8v8h-8zM115 477h8v8h-8zM123 477h8v8h-8zM131 477h8v8h-8zM139 477h8v8h-8zM147 477h8v8h-8zM43 485h8v8h-8zM51 485h8v8h-8zM59 485h8v8h-8zM67 485h8v8h-8zM75 485h8v8h-8zM83 485h8v8h-8zM91 485h8v8h-8zM99 485h8v8h-8zM107 485h8v8h-8zM115 485h8v8h-8zM123 485h8v8h-8zM131 485h8v8h-8zM139 485h8v8h-8zM147 485h8v8h-8zM155 485h8v8h-8zM163 485h8v8h-8zM171 485h8v8h-8zM179 485h8v8h-8zM187 485h8v8h-8zM195 485h8v8h-8zM43 493h8v8h-8zM51 493h8v8h-8zM59 493h8v8h-8zM67 493h8v8h-8zM75 493h8v8h-8zM83 493h8v8h-8zM91 493h8v8h-8zM99 493h8v8h-8zM107 493h8v8h-8zM115 493h8v8h-8zM123 493h8v8h-8zM131 493h8v8h-8zM139 493h8v8h-8zM147 493h8v8h-8zM155 493h8v8h-8zM163 493h8v8h-8zM171 493h8v8h-8zM179 493h8v8h-8zM187 493h8v8h-8zM195 493h8v8h-8zM43 501h8v8h-8zM51 501h8v8h-8zM59 501h8v8h-8zM67 501h8v8h-8zM75 501h8v8h-8zM83 501h8v8h-8zM91 501h8v8h-8zM99 501h8v8h-8zM107 501h8v8h-8zM115 501h8v8h-8zM123 501h8v8h-8zM131 501h8v8h-8zM139 501h8v8h-8zM147 501h8v8h-8zM155 501h8v8h-8zM163 501h8v8h-8zM171 501h8v8h-8zM179 501h8v8h-8zM187 501h8v8h-8zM195 501h8v8h-8z"/>
<path fill="#2ad5d5" d="M291 117h8v8h-8zM283 125h8v8h-8zM267 133h8v8h-8zM275 133h8v8h-8zM299 133h8v8h-8zM259 141h8v8h-8zM267 141h8v8h-8zM171 149h8v8h-8zM179 149h8v8h-8zM187 149h8v8h-8zM195 149h8v8h-8zM203 149h8v8h-8zM211 149h8v8h-8zM219 149h8v8h-8zM227 149h8v8h-8zM235 149h8v8h-8zM243 149h8v8h-8zM251 149h8v8h-8zM147 165h8v8h-8zM139 173h8v8h-8zM307 173h8v8h-8zM219 245h8v8h-8zM275 253h8v8h-8z"/>
<path fill="#4ab5b5" d="M59 125h8v8h-8zM67 133h8v8h-8zM363 141h8v8h-8zM371 141h8v8h-8zM379 141h8v8h-8zM387 141h8v8h-8zM395 141h8v8h-8zM403 141h8v8h-8zM411 141h8v8h-8zM419 141h8v8h-8zM427 141h8v8h-8zM435 141h8v8h-8zM443 141h8v8h-8zM451 141h8v8h-8zM459 149h8v8h-8zM467 149h8v8h-8zM475 157h8v8h-8zM483 157h8v8h-8zM531 157h8v8h-8zM83 181h8v8h-8zM371 181h8v8h-8zM363 205h8v8h-8zM131 213h8v8h-8zM139 213h8v8h-8zM179 213h8v8h-8zM267 277h8v8h-8zM251 285h8v8h-8zM227 325h8v8h-8zM83 373h8v8h-8zM91 373h8v8h-8zM99 373h8v8h-8zM107 373h8v8h-8zM115 373h8v8h-8zM123 373h8v8h-8zM131 373h8v8h-8zM139 373h8v8h-8zM147 373h8v8h-8zM155 373h8v8h-8zM163 373h8v8h-8zM67 381h8v8h-8zM75 381h8v8h-8zM83 381h8v8h-8zM91 381h8v8h-8zM99 381h8v8h-8zM155 381h8v8h-8zM163 381h8v8h-8zM171 381h8v8h-8zM179 381h8v8h-8zM187 381h8v8h-8zM59 389h8v8h-8zM67 389h8v8h-8zM75 389h8v8h-8zM83 389h8v8h-8zM171 389h8v8h-8zM179 389h8v8h-8zM187 389h8v8h-8zM195 389h8v8h-8zM59 397h8v8h-8zM67 397h8v8h-8zM75 397h8v8h-8zM179 397h8v8h-8zM187 397h8v8h-8zM195 397h8v8h-8zM203 397h8v8h-8zM211 397h8v8h-8zM59 405h8v8h-8zM67 405h8v8h-8zM187 405h8v8h-8zM195 405h8v8h-8zM203 405h8v8h-8zM211 405h8v8h-8zM219 405h8v8h-8zM227 405h8v8h-8zM195 413h8v8h-8zM203 413h8v8h-8zM211 413h8v8h-8zM219 413h8v8h-8zM227 413h8v8h-8zM235 413h8v8h-8zM243 413h8v8h-8zM211 421h8v8h-8zM219 421h8v8h-8zM227 421h8v8h-8zM235 421h8v8h-8zM243 421h8v8h-8zM251 437h8v8h-8zM251 445h8v8h-8zM251 453h8v8h-8zM251 461h8v8h-8zM251 469h8v8h-8zM251 477h8v8h-8z"/>
<path fill="#49b6b6" d="M67 125h8v8h-8zM459 141h8v8h-8zM467 141h8v8h-8zM363 149h8v8h-8zM475 149h8v8h-8zM483 149h8v8h-8zM67 157h8v8h-8zM491 157h8v8h-8zM499 157h8v8h-8zM523 157h8v8h-8zM107 189h8v8h-8zM371 189h8v8h-8zM371 197h8v8h-8zM331 229h8v8h-8zM203 253h8v8h-8zM323 253h8v8h-8zM211 277h8v8h-8zM203 285h8v8h-8zM107 381h8v8h-8zM115 381h8v8h-8zM123 381h8v8h-8zM131 381h8v8h-8zM139 381h8v8h-8zM147 381h8v8h-8zM91 389h8v8h-8zM99 389h8v8h-8zM107 389h8v8h-8zM115 389h8v8h-8zM123 389h8v8h-8zM131 389h8v8h-8zM139 389h8v8h-8zM147 389h8v8h-8zM155 389h8v8h-8zM163 389h8v8h-8zM83 397h8v8h-8zM91 397h8v8h-8zM99 397h8v8h-8zM107 397h8v8h-8zM115 397h8v8h-8zM123 397h8v8h-8zM147 397h8v8h-8zM155 397h8v8h-8zM163 397h8v8h-8zM171 397h8v8h-8zM43 405h8v8h-8zM51 405h8v8h-8zM75 405h8v8h-8zM83 405h8v8h-8zM91 405h8v8h-8zM99 405h8v8h-8zM107 405h8v8h-8zM115 405h8v8h-8zM155 405h8v8h-8zM163 405h8v8h-8zM171 405h8v8h-8zM179 405h8v8h-8zM43 413h8v8h-8zM51 413h8v8h-8zM59 413h8v8h-8zM67 413h8v8h-8zM75 413h8v8h-8zM83 413h8v8h-8zM91 413h8v8h-8zM99 413h8v8h-8zM171 413h8v8h-8zM179 413h8v8h-8zM187 413h8v8h-8zM43 421h8v8h-8zM51 421h8v8h-8zM59 421h8v8h-8zM67 421h8v8h-8zM75 421h8v8h-8zM83 421h8v8h-8zM91 421h8v8h-8zM179 421h8v8h-8zM187 421h8v8h-8zM195 421h8v8h-8zM203 421h8v8h-8zM43 429h8v8h-8zM51 429h8v8h-8zM59 429h8v8h-8zM67 429h8v8h-8zM75 429h8v8h-8zM179 429h8v8h-8zM187 429h8v8h-8zM195 429h8v8h-8zM203 429h8v8h-8zM211 429h8v8h-8zM219 429h8v8h-8zM227 429h8v8h-8zM235 429h8v8h-8zM243 429h8v8h-8zM43 437h8v8h-8zM51 437h8v8h-8zM59 437h8v8h-8zM67 437h8v8h-8zM179 437h8v8h-8zM187 437h8v8h-8zM195 437h8v8h-8zM203 437h8v8h-8zM211 437h8v8h-8zM219 437h8v8h-8zM227 437h8v8h-8zM235 437h8v8h-8zM243 437h8v8h-8zM43 445h8v8h-8zM51 445h8v8h-8zM179 445h8v8h-8zM187 445h8v8h-8zM195 445h8v8h-8zM203 445h8v8h-8zM211 445h8v8h-8zM219 445h8v8h-8zM227 445h8v8h-8zM235 445h8v8h-8zM243 445h8v8h-8zM43 453h8v8h-8zM51 453h8v8h-8zM187 453h8v8h-8zM195 453h8v8h-8zM203 453h8v8h-8zM211 453h8v8h-8zM219 453h8v8h-8zM227 453h8v8h-8zM235 453h8v8h-8zM243 453h8v8h-8zM195 461h8v8h-8zM203 461h8v8h-8zM211 461h8v8h-8zM219 461h8v8h-8zM227 461h8v8h-8zM235 461h8v8h-8zM243 461h8v8h-8zM203 469h8v8h-8zM211 469h8v8h-8zM219 469h8v8h-8zM227 469h8v8h-8zM235 469h8v8h-8zM243 469h8v8h-8zM211 477h8v8h-8zM219 477h8v8h-8zM227 477h8v8h-8zM235 477h8v8h-8zM243 477h8v8h-8zM203 485h8v8h-8zM211 485h8v8h-8zM219 485h8v8h-8zM227 485h8v8h-8zM235 485h8v8h-8zM243 485h8v8h-8zM251 485h8v8h-8zM259 485h8v8h-8zM267 485h8v8h-8zM275 485h8v8h-8zM283 485h8v8h-8zM203 493h8v8h-8zM211 493h8v8h-8zM219 493h8v8h-8zM227 493h8v8h-8zM235 493h8v8h-8zM243 493h8v8h-8zM251 493h8v8h-8zM259 493h8v8h-8zM267 493h8v8h-8zM275 493h8v8h-8zM283 493h8v8h-8zM203 501h8v8h-8zM211 501h8v8h-8zM219 501h8v8h-8zM227 501h8v8h-8zM235 501h8v8h-8zM243 501h8v8h-8zM251 501h8v8h-8zM259 501h8v8h-8zM267 501h8v8h-8zM275 501h8v8h-8zM283 501h8v8h-8z"/>
<path fill="#29d6d6" d="M291 125h8v8h-8zM283 133h8v8h-8zM291 133h8v8h-8zM275 141h8v8h-8zM299 141h8v8h-8zM259 149h8v8h-8zM267 149h8v8h-8zM163 157h8v8h-8zM171 157h8v8h-8zM179 157h8v8h-8zM187 157h8v8h-8zM195 157h8v8h-8zM203 157h8v8h-8zM211 157h8v8h-8zM219 157h8v8h-8zM227 157h8v8h-8zM235 157h8v8h-8zM243 157h8v8h-8zM251 157h8v8h-8zM155 165h8v8h-8zM131 181h8v8h-8zM307 181h8v8h-8zM299 213h8v8h-8zM291 229h8v8h-8zM283 237h8v8h-8z"/>
<path fill="#4bb4b4" d="M59 133h8v8h-8zM59 141h8v8h-8zM443 149h8v8h-8zM451 149h8v8h-8zM459 157h8v8h-8zM467 157h8v8h-8zM67 165h8v8h-8zM371 165h8v8h-8zM483 165h8v8h-8zM491 165h8v8h-8zM371 173h8v8h-8zM91 189h8v8h-8zM123 205h8v8h-8zM355 213h8v8h-8zM307 261h8v8h-8zM291 269h8v8h-8zM243 301h8v8h-8zM43 357h8v8h-8zM51 357h8v8h-8zM43 365h8v8h-8zM51 365h8v8h-8zM83 365h8v8h-8zM91 365h8v8h-8zM99 365h8v8h-8zM107 365h8v8h-8zM115 365h8v8h-8zM123 365h8v8h-8zM131 365h8v8h-8zM139 365h8v8h-8zM147 365h8v8h-8zM155 365h8v8h-8zM163 365h8v8h-8zM171 365h8v8h-8zM43 373h8v8h-8zM51 373h8v8h-8zM59 373h8v8h-8zM67 373h8v8h-8zM75 373h8v8h-8zM171 373h8v8h-8zM179 373h8v8h-8zM187 373h8v8h-8zM195 373h8v8h-8zM203 373h8v8h-8zM211 373h8v8h-8zM43 381h8v8h-8zM51 381h8v8h-8zM59 381h8v8h-8zM195 381h8v8h-8zM203 381h8v8h-8zM211 381h8v8h-8zM219 381h8v8h-8zM43 389h8v8h-8zM51 389h8v8h-8zM203 389h8v8h-8zM211 389h8v8h-8zM219 389h8v8h-8zM227 389h8v8h-8zM235 389h8v8h-8zM43 397h8v8h-8zM51 397h8v8h-8zM219 397h8v8h-8zM227 397h8v8h-8zM235 397h8v8h-8zM243 397h8v8h-8zM235 405h8v8h-8zM243 405h8v8h-8zM251 413h8v8h-8zM251 421h8v8h-8zM251 429h8v8h-8zM259 477h8v8h-8zM267 477h8v8h-8z"/>
<path fill="#28d7d7" d="M283 141h8v8h-8zM291 141h8v8h-8zM275 149h8v8h-8zM283 149h8v8h-8zM299 149h8v8h-8zM259 157h8v8h-8zM267 157h8v8h-8zM147 173h8v8h-8zM139 181h8v8h-8zM307 189h8v8h-8zM307 197h8v8h-8zM211 229h8v8h-8zM275 245h8v8h-8zM267 253h8v8h-8z"/>
<path fill="#4db2b2" d="M59 149h8v8h-8zM379 157h8v8h-8zM387 157h8v8h-8zM395 157h8v8h-8zM403 157h8v8h-8zM411 157h8v8h-8zM419 157h8v8h-8zM427 157h8v8h-8zM435 157h8v8h-8zM443 157h8v8h-8zM547 157h8v8h-8zM451 165h8v8h-8zM459 165h8v8h-8zM507 165h8v8h-8zM67 173h8v8h-8zM467 173h8v8h-8zM379 189h8v8h-8zM379 197h8v8h-8zM187 229h8v8h-8zM331 245h8v8h-8zM275 277h8v8h-8zM59 349h8v8h-8zM67 349h8v8h-8zM75 349h8v8h-8zM83 349h8v8h-8zM91 349h8v8h-8zM99 349h8v8h-8zM107 349h8v8h-8zM115 349h8v8h-8zM123 349h8v8h-8zM131 349h8v8h-8zM139 349h8v8h-8zM147 349h8v8h-8zM155 349h8v8h-8zM195 349h8v8h-8zM203 349h8v8h-8zM211 349h8v8h-8zM219 349h8v8h-8zM227 349h8v8h-8zM219 357h8v8h-8zM227 357h8v8h-8zM235 357h8v8h-8zM227 365h8v8h-8zM235 365h8v8h-8zM243 365h8v8h-8zM243 373h8v8h-8zM251 389h8v8h-8zM251 397h8v8h-8zM259 413h8v8h-8zM259 421h8v8h-8zM267 437h8v8h-8zM267 445h8v8h-8zM267 453h8v8h-8zM267 461h8v8h-8zM267 469h8v8h-8zM275 469h8v8h-8zM291 477h8v8h-8zM299 477h8v8h-8z"/>
<path fill="#27d8d8" d="M291 149h8v8h-8zM275 157h8v8h-8zM283 157h8v8h-8zM299 157h8v8h-8zM163 165h8v8h-8zM171 165h8v8h-8zM179 165h8v8h-8zM187 165h8v8h-8zM195 165h8v8h-8zM203 165h8v8h-8zM211 165h8v8h-8zM219 165h8v8h-8zM227 165h8v8h-8zM235 165h8v8h-8zM243 165h8v8h-8zM251 165h8v8h-8zM259 165h8v8h-8zM267 165h8v8h-8zM275 165h8v8h-8zM299 165h8v8h-8zM299 205h8v8h-8zM291 221h8v8h-8zM283 229h8v8h-8z"/>
<path fill="#4cb3b3" d="M371 149h8v8h-8zM379 149h8v8h-8zM387 149h8v8h-8zM395 149h8v8h-8zM403 149h8v8h-8zM411 149h8v8h-8zM419 149h8v8h-8zM427 149h8v8h-8zM435 149h8v8h-8zM371 157h8v8h-8zM451 157h8v8h-8zM539 157h8v8h-8zM467 165h8v8h-8zM475 165h8v8h-8zM499 165h8v8h-8zM115 197h8v8h-8zM147 213h8v8h-8zM155 213h8v8h-8zM163 213h8v8h-8zM171 213h8v8h-8zM347 221h8v8h-8zM331 237h8v8h-8zM187 293h8v8h-8zM195 301h8v8h-8zM203 309h8v8h-8zM211 317h8v8h-8zM235 317h8v8h-8zM219 325h8v8h-8zM59 357h8v8h-8zM67 357h8v8h-8zM75 357h8v8h-8zM83 357h8v8h-8zM91 357h8v8h-8zM99 357h8v8h-8zM107 357h8v8h-8zM115 357h8v8h-8zM123 357h8v8h-8zM131 357h8v8h-8zM139 357h8v8h-8zM147 357h8v8h-8zM155 357h8v8h-8zM163 357h8v8h-8zM171 357h8v8h-8zM179 357h8v8h-8zM187 357h8v8h-8zM195 357h8v8h-8zM203 357h8v8h-8zM211 357h8v8h-8zM59 365h8v8h-8zM67 365h8v8h-8zM75 365h8v8h-8zM179 365h8v8h-8zM187 365h8v8h-8zM195 365h8v8h-8zM203 365h8v8h-8zM211 365h8v8h-8zM219 365h8v8h-8zM219 373h8v8h-8zM227 373h8v8h-8zM235 373h8v8h-8zM227 381h8v8h-8zM235 381h8v8h-8zM243 381h8v8h-8zM243 389h8v8h-8zM251 405h8v8h-8zM259 429h8v8h-8zM259 437h8v8h-8zM259 445h8v8h-8zM259 453h8v8h-8zM259 461h8v8h-8zM259 469h8v8h-8zM275 477h8v8h-8zM283 477h8v8h-8z"/>
<path fill="#55aaaa" d="M43 157h8v8h-8zM51 157h8v8h-8zM43 165h8v8h-8zM51 165h8v8h-8zM43 173h8v8h-8zM51 173h8v8h-8zM507 173h8v8h-8zM43 181h8v8h-8zM51 181h8v8h-8zM467 181h8v8h-8zM43 189h8v8h-8zM51 189h8v8h-8zM83 197h8v8h-8zM395 197h8v8h-8zM123 213h8v8h-8zM363 221h8v8h-8zM339 245h8v8h-8zM315 261h8v8h-8zM43 277h8v8h-8zM51 277h8v8h-8zM43 285h8v8h-8zM51 285h8v8h-8zM43 293h8v8h-8zM51 293h8v8h-8zM43 301h8v8h-8zM51 301h8v8h-8zM43 309h8v8h-8zM51 309h8v8h-8zM251 309h8v8h-8zM123 325h8v8h-8zM187 333h8v8h-8zM251 333h8v8h-8zM259 349h8v8h-8zM267 365h8v8h-8zM283 397h8v8h-8zM299 413h8v8h-8zM307 429h8v8h-8zM339 461h8v8h-8zM403 477h8v8h-8z"/>
<path fill="#4eb1b1" d="M59 157h8v8h-8zM435 165h8v8h-8zM443 165h8v8h-8zM451 173h8v8h-8zM459 173h8v8h-8zM75 181h8v8h-8zM379 181h8v8h-8zM371 205h8v8h-8zM339 229h8v8h-8zM251 293h8v8h-8zM43 317h8v8h-8zM51 317h8v8h-8zM43 325h8v8h-8zM51 325h8v8h-8zM43 333h8v8h-8zM51 333h8v8h-8zM227 333h8v8h-8zM43 341h8v8h-8zM51 341h8v8h-8zM59 341h8v8h-8zM67 341h8v8h-8zM75 341h8v8h-8zM83 341h8v8h-8zM91 341h8v8h-8zM99 341h8v8h-8zM107 341h8v8h-8zM115 341h8v8h-8zM123 341h8v8h-8zM131 341h8v8h-8zM211 341h8v8h-8zM219 341h8v8h-8zM227 341h8v8h-8zM43 349h8v8h-8zM51 349h8v8h-8zM187 349h8v8h-8zM235 349h8v8h-8zM243 357h8v8h-8zM251 381h8v8h-8zM259 405h8v8h-8zM267 421h8v8h-8zM267 429h8v8h-8zM275 461h8v8h-8zM283 469h8v8h-8zM291 469h8v8h-8zM307 477h8v8h-8zM315 477h8v8h-8zM291 485h8v8h-8zM299 485h8v8h-8zM307 485h8v8h-8zM315 485h8v8h-8zM323 485h8v8h-8zM331 485h8v8h-8zM339 485h8v8h-8zM347 485h8v8h-8zM291 493h8v8h-8zM299 493h8v8h-8zM307 493h8v8h-8zM315 493h8v8h-8zM323 493h8v8h-8zM331 493h8v8h-8zM339 493h8v8h-8zM347 493h8v8h-8zM355 493h8v8h-8zM291 501h8v8h-8zM299 501h8v8h-8zM307 501h8v8h-8zM315 501h8v8h-8zM323 501h8v8h-8zM331 501h8v8h-8zM339 501h8v8h-8zM347 501h8v8h-8zM355 501h8v8h-8z"/>
<path fill="#26d9d9" d="M291 157h8v8h-8zM283 165h8v8h-8zM155 173h8v8h-8zM163 173h8v8h-8zM171 173h8v8h-8zM179 173h8v8h-8zM187 173h8v8h-8zM195 173h8v8h-8zM203 173h8v8h-8zM211 173h8v8h-8zM219 173h8v8h-8zM227 173h8v8h-8zM235 173h8v8h-8zM243 173h8v8h-8zM251 173h8v8h-8zM259 173h8v8h-8zM267 173h8v8h-8zM275 173h8v8h-8zM299 173h8v8h-8zM147 181h8v8h-8zM203 213h8v8h-8zM275 237h8v8h-8zM267 245h8v8h-8zM251 261h8v8h-8zM235 269h8v8h-8z"/>
<path fill="#50afaf" d="M59 165h8v8h-8zM523 165h8v8h-8zM547 165h8v8h-8zM387 173h8v8h-8zM395 173h8v8h-8zM403 173h8v8h-8zM411 173h8v8h-8zM419 173h8v8h-8zM427 173h8v8h-8zM483 173h8v8h-8zM435 181h8v8h-8zM443 181h8v8h-8zM355 221h8v8h-8zM203 261h8v8h-8zM259 285h8v8h-8zM187 301h8v8h-8zM195 309h8v8h-8zM203 317h8v8h-8zM59 325h8v8h-8zM67 325h8v8h-8zM75 325h8v8h-8zM83 325h8v8h-8zM91 325h8v8h-8zM99 325h8v8h-8zM107 325h8v8h-8zM211 325h8v8h-8zM235 325h8v8h-8zM219 333h8v8h-8zM235 333h8v8h-8zM195 341h8v8h-8zM243 341h8v8h-8zM171 349h8v8h-8zM251 357h8v8h-8zM259 389h8v8h-8zM259 397h8v8h-8zM275 413h8v8h-8zM275 421h8v8h-8zM283 437h8v8h-8zM283 445h8v8h-8zM283 453h8v8h-8zM299 461h8v8h-8zM307 461h8v8h-8zM315 469h8v8h-8zM323 469h8v8h-8zM363 469h8v8h-8zM371 469h8v8h-8zM379 469h8v8h-8zM331 477h8v8h-8zM363 477h8v8h-8zM371 477h8v8h-8zM355 485h8v8h-8zM363 485h8v8h-8zM371 485h8v8h-8zM363 493h8v8h-8zM363 501h8v8h-8z"/>
<path fill="#25dada" d="M291 165h8v8h-8zM283 173h8v8h-8zM291 173h8v8h-8zM155 181h8v8h-8zM163 181h8v8h-8zM171 181h8v8h-8zM179 181h8v8h-8zM187 181h8v8h-8zM195 181h8v8h-8zM203 181h8v8h-8zM211 181h8v8h-8zM219 181h8v8h-8zM227 181h8v8h-8zM235 181h8v8h-8zM243 181h8v8h-8zM251 181h8v8h-8zM259 181h8v8h-8zM267 181h8v8h-8zM275 181h8v8h-8zM299 181h8v8h-8zM139 189h8v8h-8zM291 213h8v8h-8zM243 245h8v8h-8zM251 245h8v8h-8zM259 245h8v8h-8zM251 253h8v8h-8zM259 253h8v8h-8z"/>
<path fill="#4fb0b0" d="M379 165h8v8h-8zM387 165h8v8h-8zM395 165h8v8h-8zM403 165h8v8h-8zM411 165h8v8h-8zM419 165h8v8h-8zM427 165h8v8h-8zM515 165h8v8h-8zM379 173h8v8h-8zM435 173h8v8h-8zM443 173h8v8h-8zM475 173h8v8h-8zM83 189h8v8h-8zM99 197h8v8h-8zM363 213h8v8h-8zM195 245h8v8h-8zM243 309h8v8h-8zM59 333h8v8h-8zM67 333h8v8h-8zM75 333h8v8h-8zM83 333h8v8h-8zM91 333h8v8h-8zM99 333h8v8h-8zM107 333h8v8h-8zM115 333h8v8h-8zM139 341h8v8h-8zM203 341h8v8h-8zM235 341h8v8h-8zM163 349h8v8h-8zM179 349h8v8h-8zM243 349h8v8h-8zM251 365h8v8h-8zM251 373h8v8h-8zM267 405h8v8h-8zM267 413h8v8h-8zM275 429h8v8h-8zM275 437h8v8h-8zM275 445h8v8h-8zM275 453h8v8h-8zM283 461h8v8h-8zM291 461h8v8h-8zM299 469h8v8h-8zM307 469h8v8h-8zM323 477h8v8h-8zM339 477h8v8h-8zM347 477h8v8h-8zM355 477h8v8h-8z"/>
<path fill="#52adad" d="M531 165h8v8h-8zM59 173h8v8h-8zM491 173h8v8h-8zM67 181h8v8h-8zM387 181h8v8h-8zM395 181h8v8h-8zM403 181h8v8h-8zM411 181h8v8h-8zM451 181h8v8h-8zM379 205h8v8h-8zM179 221h8v8h-8zM347 229h8v8h-8zM331 253h8v8h-8zM299 269h8v8h-8zM251 301h8v8h-8zM107 317h8v8h-8zM211 333h8v8h-8zM243 333h8v8h-8zM155 341h8v8h-8zM259 365h8v8h-8zM267 397h8v8h-8zM283 413h8v8h-8zM291 429h8v8h-8zM291 437h8v8h-8zM291 445h8v8h-8zM307 453h8v8h-8zM315 453h8v8h-8zM323 461h8v8h-8zM371 461h8v8h-8zM331 469h8v8h-8zM339 469h8v8h-8zM379 485h8v8h-8zM387 485h8v8h-8zM395 485h8v8h-8zM403 485h8v8h-8zM411 485h8v8h-8zM419 485h8v8h-8zM371 493h8v8h-8zM379 493h8v8h-8zM387 493h8v8h-8zM395 493h8v8h-8zM403 493h8v8h-8zM411 493h8v8h-8zM419 493h8v8h-8zM371 501h8v8h-8zM379 501h8v8h-8zM387 501h8v8h-8zM395 501h8v8h-8zM403 501h8v8h-8zM411 501h8v8h-8zM419 501h8v8h-8z"/>
<path fill="#54abab" d="M539 165h8v8h-8zM547 173h8v8h-8zM395 189h8v8h-8zM403 189h8v8h-8zM427 189h8v8h-8zM187 237h8v8h-8zM203 277h8v8h-8zM195 285h8v8h-8zM267 285h8v8h-8zM59 301h8v8h-8zM67 301h8v8h-8zM75 301h8v8h-8zM83 301h8v8h-8zM91 301h8v8h-8zM99 301h8v8h-8zM179 301h8v8h-8zM107 309h8v8h-8zM187 309h8v8h-8zM195 317h8v8h-8zM203 325h8v8h-8zM139 333h8v8h-8zM195 333h8v8h-8zM171 341h8v8h-8zM267 373h8v8h-8zM291 405h8v8h-8zM299 421h8v8h-8zM299 429h8v8h-8zM307 437h8v8h-8zM315 445h8v8h-8zM323 453h8v8h-8zM331 461h8v8h-8zM347 461h8v8h-8zM355 461h8v8h-8z"/>
<path fill="#53acac" d="M499 173h8v8h-8zM459 181h8v8h-8zM75 189h8v8h-8zM411 189h8v8h-8zM419 189h8v8h-8zM371 213h8v8h-8zM339 237h8v8h-8zM203 269h8v8h-8zM259 293h8v8h-8zM59 309h8v8h-8zM67 309h8v8h-8zM75 309h8v8h-8zM83 309h8v8h-8zM91 309h8v8h-8zM99 309h8v8h-8zM115 317h8v8h-8zM243 317h8v8h-8zM243 325h8v8h-8zM131 333h8v8h-8zM203 333h8v8h-8zM163 341h8v8h-8zM179 341h8v8h-8zM251 341h8v8h-8zM259 357h8v8h-8zM267 381h8v8h-8zM267 389h8v8h-8zM275 397h8v8h-8zM283 405h8v8h-8zM291 413h8v8h-8zM291 421h8v8h-8zM299 437h8v8h-8zM299 445h8v8h-8zM307 445h8v8h-8zM363 461h8v8h-8zM379 461h8v8h-8zM387 469h8v8h-8zM395 477h8v8h-8z"/>
<path fill="#57a8a8" d="M515 173h8v8h-8zM547 181h8v8h-8zM403 197h8v8h-8zM99 205h8v8h-8zM379 213h8v8h-8zM347 237h8v8h-8zM291 277h8v8h-8zM99 293h8v8h-8zM179 293h8v8h-8zM171 301h8v8h-8zM123 317h8v8h-8zM251 317h8v8h-8zM195 325h8v8h-8zM155 333h8v8h-8zM171 333h8v8h-8zM259 341h8v8h-8zM275 373h8v8h-8zM283 389h8v8h-8zM291 397h8v8h-8zM307 421h8v8h-8zM347 453h8v8h-8zM371 453h8v8h-8zM419 477h8v8h-8z"/>
<path fill="#58a7a7" d="M523 173h8v8h-8zM483 181h8v8h-8zM67 189h8v8h-8zM443 189h8v8h-8zM275 285h8v8h-8zM107 293h8v8h-8zM267 293h8v8h-8zM115 301h8v8h-8zM179 309h8v8h-8zM187 317h8v8h-8zM131 325h8v8h-8zM187 325h8v8h-8zM163 333h8v8h-8zM267 349h8v8h-8zM275 365h8v8h-8zM307 413h8v8h-8zM315 429h8v8h-8zM323 437h8v8h-8zM331 445h8v8h-8zM339 453h8v8h-8zM379 453h8v8h-8zM403 469h8v8h-8zM427 477h8v8h-8zM427 485h8v8h-8zM435 485h8v8h-8zM443 485h8v8h-8zM451 485h8v8h-8zM459 485h8v8h-8zM467 485h8v8h-8zM475 485h8v8h-8zM483 485h8v8h-8zM491 485h8v8h-8zM499 485h8v8h-8zM427 493h8v8h-8zM435 493h8v8h-8zM443 493h8v8h-8zM451 493h8v8h-8zM459 493h8v8h-8zM467 493h8v8h-8zM475 493h8v8h-8zM483 493h8v8h-8zM491 493h8v8h-8zM499 493h8v8h-8zM427 501h8v8h-8zM435 501h8v8h-8zM443 501h8v8h-8zM451 501h8v8h-8zM459 501h8v8h-8zM467 501h8v8h-8zM475 501h8v8h-8zM483 501h8v8h-8zM491 501h8v8h-8zM499 501h8v8h-8z"/>
<path fill="#5aa5a5" d="M531 173h8v8h-8zM491 181h8v8h-8zM59 197h8v8h-8zM83 205h8v8h-8zM363 229h8v8h-8zM115 293h8v8h-8zM147 325h8v8h-8zM171 325h8v8h-8zM259 325h8v8h-8zM275 357h8v8h-8zM315 413h8v8h-8zM323 429h8v8h-8zM331 437h8v8h-8zM339 445h8v8h-8zM347 445h8v8h-8zM419 469h8v8h-8zM443 477h8v8h-8z"/>
<path fill="#59a6a6" d="M539 173h8v8h-8zM59 189h8v8h-8zM451 189h8v8h-8zM75 197h8v8h-8zM411 197h8v8h-8zM107 205h8v8h-8zM371 221h8v8h-8zM179 229h8v8h-8zM59 285h8v8h-8zM67 285h8v8h-8zM75 285h8v8h-8zM83 285h8v8h-8zM91 285h8v8h-8zM123 309h8v8h-8zM259 309h8v8h-8zM139 325h8v8h-8zM179 325h8v8h-8zM259 333h8v8h-8zM283 373h8v8h-8zM283 381h8v8h-8zM291 389h8v8h-8zM299 397h8v8h-8zM307 405h8v8h-8zM315 421h8v8h-8zM355 445h8v8h-8zM387 453h8v8h-8zM395 461h8v8h-8zM411 469h8v8h-8zM435 477h8v8h-8z"/>
<path fill="#56a9a9" d="M59 181h8v8h-8zM475 181h8v8h-8zM435 189h8v8h-8zM91 205h8v8h-8zM115 205h8v8h-8zM387 205h8v8h-8zM355 229h8v8h-8zM195 253h8v8h-8zM59 293h8v8h-8zM67 293h8v8h-8zM75 293h8v8h-8zM83 293h8v8h-8zM91 293h8v8h-8zM107 301h8v8h-8zM259 301h8v8h-8zM115 309h8v8h-8zM251 325h8v8h-8zM147 333h8v8h-8zM179 333h8v8h-8zM267 357h8v8h-8zM275 381h8v8h-8zM275 389h8v8h-8zM299 405h8v8h-8zM315 437h8v8h-8zM323 445h8v8h-8zM331 453h8v8h-8zM355 453h8v8h-8zM363 453h8v8h-8zM387 461h8v8h-8zM395 469h8v8h-8zM411 477h8v8h-8z"/>
<path fill="#24dbdb" d="M283 181h8v8h-8zM291 181h8v8h-8zM147 189h8v8h-8zM299 189h8v8h-8zM147 197h8v8h-8zM155 197h8v8h-8zM163 197h8v8h-8zM171 197h8v8h-8zM179 197h8v8h-8zM187 197h8v8h-8zM195 197h8v8h-8zM299 197h8v8h-8zM283 221h8v8h-8zM227 229h8v8h-8zM235 229h8v8h-8zM243 229h8v8h-8zM251 229h8v8h-8zM259 229h8v8h-8zM267 229h8v8h-8zM275 229h8v8h-8zM235 237h8v8h-8zM243 237h8v8h-8zM251 237h8v8h-8zM259 237h8v8h-8zM267 237h8v8h-8zM235 245h8v8h-8zM227 253h8v8h-8zM243 253h8v8h-8z"/>
<path fill="#51aeae" d="M419 181h8v8h-8zM427 181h8v8h-8zM387 189h8v8h-8zM91 197h8v8h-8zM107 197h8v8h-8zM387 197h8v8h-8zM283 277h8v8h-8zM59 317h8v8h-8zM67 317h8v8h-8zM75 317h8v8h-8zM83 317h8v8h-8zM91 317h8v8h-8zM99 317h8v8h-8zM115 325h8v8h-8zM123 333h8v8h-8zM147 341h8v8h-8zM187 341h8v8h-8zM251 349h8v8h-8zM259 373h8v8h-8zM259 381h8v8h-8zM275 405h8v8h-8zM283 421h8v8h-8zM283 429h8v8h-8zM291 453h8v8h-8zM299 453h8v8h-8zM315 461h8v8h-8zM347 469h8v8h-8zM355 469h8v8h-8zM379 477h8v8h-8zM387 477h8v8h-8z"/>
<path fill="#5ba4a4" d="M499 181h8v8h-8zM459 189h8v8h-8zM547 189h8v8h-8zM419 197h8v8h-8zM355 237h8v8h-8zM187 245h8v8h-8zM59 277h8v8h-8zM67 277h8v8h-8zM75 277h8v8h-8zM99 285h8v8h-8zM283 285h8v8h-8zM123 301h8v8h-8zM163 301h8v8h-8zM267 301h8v8h-8zM171 309h8v8h-8zM131 317h8v8h-8zM259 317h8v8h-8zM267 341h8v8h-8zM283 365h8v8h-8zM291 381h8v8h-8zM299 389h8v8h-8zM363 445h8v8h-8zM403 461h8v8h-8zM427 469h8v8h-8zM451 477h8v8h-8z"/>
<path fill="#5da2a2" d="M507 181h8v8h-8zM539 181h8v8h-8zM91 213h8v8h-8zM195 261h8v8h-8zM107 285h8v8h-8zM123 293h8v8h-8zM131 309h8v8h-8zM267 309h8v8h-8zM267 333h8v8h-8zM283 357h8v8h-8zM299 381h8v8h-8zM323 413h8v8h-8zM347 437h8v8h-8zM379 445h8v8h-8zM419 461h8v8h-8zM467 477h8v8h-8z"/>
<path fill="#5ea1a1" d="M515 181h8v8h-8zM475 189h8v8h-8zM435 197h8v8h-8zM67 205h8v8h-8zM59 213h8v8h-8zM123 221h8v8h-8zM323 261h8v8h-8zM59 269h8v8h-8zM67 269h8v8h-8zM75 269h8v8h-8zM115 285h8v8h-8zM291 285h8v8h-8zM139 317h8v8h-8zM171 317h8v8h-8zM267 325h8v8h-8zM275 341h8v8h-8zM291 365h8v8h-8zM307 389h8v8h-8zM331 421h8v8h-8zM339 429h8v8h-8zM355 437h8v8h-8zM387 445h8v8h-8zM403 453h8v8h-8zM427 461h8v8h-8zM475 477h8v8h-8z"/>
<path fill="#609f9f" d="M523 181h8v8h-8zM483 189h8v8h-8zM403 205h8v8h-8zM83 213h8v8h-8zM387 213h8v8h-8zM59 221h8v8h-8zM179 237h8v8h-8zM91 269h8v8h-8zM283 293h8v8h-8zM155 317h8v8h-8zM267 317h8v8h-8zM275 333h8v8h-8zM299 373h8v8h-8zM331 413h8v8h-8zM339 421h8v8h-8zM347 429h8v8h-8zM363 437h8v8h-8zM419 453h8v8h-8zM435 461h8v8h-8zM451 469h8v8h-8zM459 469h8v8h-8zM491 477h8v8h-8z"/>
<path fill="#619e9e" d="M531 181h8v8h-8zM491 189h8v8h-8zM539 189h8v8h-8zM451 197h8v8h-8zM411 205h8v8h-8zM75 213h8v8h-8zM107 213h8v8h-8zM379 221h8v8h-8zM59 261h8v8h-8zM67 261h8v8h-8zM107 277h8v8h-8zM299 285h8v8h-8zM139 309h8v8h-8zM275 309h8v8h-8zM291 357h8v8h-8zM307 381h8v8h-8zM331 405h8v8h-8zM371 437h8v8h-8zM467 469h8v8h-8zM499 477h8v8h-8z"/>
<path fill="#23dcdc" d="M155 189h8v8h-8zM163 189h8v8h-8zM171 189h8v8h-8zM179 189h8v8h-8zM187 189h8v8h-8zM195 189h8v8h-8zM203 189h8v8h-8zM211 189h8v8h-8zM219 189h8v8h-8zM227 189h8v8h-8zM235 189h8v8h-8zM243 189h8v8h-8zM251 189h8v8h-8zM259 189h8v8h-8zM267 189h8v8h-8zM275 189h8v8h-8zM283 189h8v8h-8zM291 189h8v8h-8zM291 205h8v8h-8zM211 213h8v8h-8zM219 213h8v8h-8zM227 213h8v8h-8zM235 213h8v8h-8zM243 213h8v8h-8zM251 213h8v8h-8zM259 213h8v8h-8zM267 213h8v8h-8zM275 213h8v8h-8zM283 213h8v8h-8zM219 221h8v8h-8zM227 221h8v8h-8zM235 221h8v8h-8zM243 221h8v8h-8zM251 221h8v8h-8zM259 221h8v8h-8zM267 221h8v8h-8zM275 221h8v8h-8zM219 229h8v8h-8zM219 237h8v8h-8zM227 237h8v8h-8zM235 253h8v8h-8zM243 261h8v8h-8z"/>
<path fill="#5ca3a3" d="M467 189h8v8h-8zM67 197h8v8h-8zM427 197h8v8h-8zM59 205h8v8h-8zM131 221h8v8h-8zM171 221h8v8h-8zM347 245h8v8h-8zM339 253h8v8h-8zM83 277h8v8h-8zM91 277h8v8h-8zM299 277h8v8h-8zM275 293h8v8h-8zM179 317h8v8h-8zM155 325h8v8h-8zM163 325h8v8h-8zM275 349h8v8h-8zM291 373h8v8h-8zM307 397h8v8h-8zM315 405h8v8h-8zM323 421h8v8h-8zM331 429h8v8h-8zM339 437h8v8h-8zM371 445h8v8h-8zM395 453h8v8h-8zM411 461h8v8h-8zM435 469h8v8h-8zM459 477h8v8h-8z"/>
<path fill="#639c9c" d="M499 189h8v8h-8zM459 197h8v8h-8zM75 221h8v8h-8zM363 237h8v8h-8zM43 253h8v8h-8zM51 253h8v8h-8zM43 261h8v8h-8zM51 261h8v8h-8zM91 261h8v8h-8zM331 261h8v8h-8zM43 269h8v8h-8zM51 269h8v8h-8zM115 277h8v8h-8zM131 293h8v8h-8zM139 301h8v8h-8zM283 301h8v8h-8zM155 309h8v8h-8zM291 349h8v8h-8zM307 373h8v8h-8zM355 429h8v8h-8zM387 437h8v8h-8zM395 437h8v8h-8zM411 445h8v8h-8zM459 461h8v8h-8zM483 469h8v8h-8zM515 477h8v8h-8z"/>
<path fill="#649b9b" d="M507 189h8v8h-8zM467 197h8v8h-8zM539 197h8v8h-8zM427 205h8v8h-8zM91 221h8v8h-8zM59 229h8v8h-8zM355 245h8v8h-8zM59 253h8v8h-8zM67 253h8v8h-8zM291 293h8v8h-8zM147 309h8v8h-8zM275 317h8v8h-8zM283 333h8v8h-8zM299 357h8v8h-8zM315 381h8v8h-8zM331 397h8v8h-8zM339 405h8v8h-8zM347 413h8v8h-8zM419 445h8v8h-8zM435 453h8v8h-8zM443 461h8v8h-8zM467 461h8v8h-8zM491 469h8v8h-8zM523 477h8v8h-8z"/>
<path fill="#669999" d="M515 189h8v8h-8zM531 189h8v8h-8zM475 197h8v8h-8zM547 213h8v8h-8zM99 221h8v8h-8zM43 229h8v8h-8zM51 229h8v8h-8zM75 229h8v8h-8zM171 229h8v8h-8zM43 237h8v8h-8zM51 237h8v8h-8zM59 237h8v8h-8zM43 245h8v8h-8zM51 245h8v8h-8zM67 245h8v8h-8zM99 261h8v8h-8zM283 309h8v8h-8zM283 325h8v8h-8zM299 349h8v8h-8zM315 373h8v8h-8zM563 421h8v8h-8zM571 421h8v8h-8zM371 429h8v8h-8zM555 429h8v8h-8zM563 429h8v8h-8zM571 429h8v8h-8zM411 437h8v8h-8zM555 437h8v8h-8zM563 437h8v8h-8zM571 437h8v8h-8zM555 445h8v8h-8zM563 445h8v8h-8zM571 445h8v8h-8zM555 453h8v8h-8zM563 453h8v8h-8zM571 453h8v8h-8zM483 461h8v8h-8zM555 461h8v8h-8zM563 461h8v8h-8zM571 461h8v8h-8zM507 469h8v8h-8zM555 469h8v8h-8zM563 469h8v8h-8zM571 469h8v8h-8zM539 477h8v8h-8zM555 477h8v8h-8zM563 477h8v8h-8zM571 477h8v8h-8zM507 485h8v8h-8zM515 485h8v8h-8zM523 485h8v8h-8zM531 485h8v8h-8zM539 485h8v8h-8zM547 485h8v8h-8zM555 485h8v8h-8zM563 485h8v8h-8zM571 485h8v8h-8zM507 493h8v8h-8zM515 493h8v8h-8zM523 493h8v8h-8zM531 493h8v8h-8zM539 493h8v8h-8zM547 493h8v8h-8zM555 493h8v8h-8zM563 493h8v8h-8zM571 493h8v8h-8zM507 501h8v8h-8zM515 501h8v8h-8zM523 501h8v8h-8zM531 501h8v8h-8zM539 501h8v8h-8zM547 501h8v8h-8zM555 501h8v8h-8zM563 501h8v8h-8zM571 501h8v8h-8z"/>
<path fill="#689797" d="M523 189h8v8h-8zM539 205h8v8h-8zM395 213h8v8h-8zM107 221h8v8h-8zM75 237h8v8h-8zM75 245h8v8h-8zM83 245h8v8h-8zM299 293h8v8h-8zM283 317h8v8h-8zM307 357h8v8h-8zM323 381h8v8h-8zM331 389h8v8h-8zM363 421h8v8h-8zM387 429h8v8h-8zM395 429h8v8h-8zM419 437h8v8h-8zM443 453h8v8h-8zM459 453h8v8h-8zM467 453h8v8h-8zM499 461h8v8h-8zM523 469h8v8h-8z"/>
<path fill="#5ea2a2" d="M43 197h8v8h-8zM51 197h8v8h-8zM43 205h8v8h-8zM51 205h8v8h-8zM43 213h8v8h-8zM51 213h8v8h-8zM43 221h8v8h-8zM51 221h8v8h-8z"/>
<path fill="#22dddd" d="M203 197h8v8h-8zM211 197h8v8h-8zM219 197h8v8h-8zM227 197h8v8h-8zM235 197h8v8h-8zM243 197h8v8h-8zM251 197h8v8h-8zM259 197h8v8h-8zM267 197h8v8h-8zM275 197h8v8h-8zM283 197h8v8h-8zM291 197h8v8h-8zM203 205h8v8h-8zM211 205h8v8h-8zM219 205h8v8h-8zM227 205h8v8h-8zM235 205h8v8h-8zM243 205h8v8h-8zM251 205h8v8h-8zM259 205h8v8h-8zM267 205h8v8h-8zM275 205h8v8h-8zM283 205h8v8h-8zM211 221h8v8h-8zM227 245h8v8h-8zM235 261h8v8h-8z"/>
<path fill="#5fa0a0" d="M443 197h8v8h-8zM547 197h8v8h-8zM75 205h8v8h-8zM395 205h8v8h-8zM67 213h8v8h-8zM99 213h8v8h-8zM115 213h8v8h-8zM139 221h8v8h-8zM147 221h8v8h-8zM155 221h8v8h-8zM163 221h8v8h-8zM83 269h8v8h-8zM195 269h8v8h-8zM307 269h8v8h-8zM99 277h8v8h-8zM195 277h8v8h-8zM187 285h8v8h-8zM131 301h8v8h-8zM275 301h8v8h-8zM163 309h8v8h-8zM147 317h8v8h-8zM163 317h8v8h-8zM283 349h8v8h-8zM315 397h8v8h-8zM323 405h8v8h-8zM395 445h8v8h-8zM411 453h8v8h-8zM443 469h8v8h-8zM483 477h8v8h-8z"/>
<path fill="#679898" d="M483 197h8v8h-8zM443 205h8v8h-8zM83 229h8v8h-8zM67 237h8v8h-8zM179 245h8v8h-8zM91 253h8v8h-8zM347 253h8v8h-8zM115 269h8v8h-8zM307 277h8v8h-8zM291 301h8v8h-8zM291 333h8v8h-8zM339 397h8v8h-8zM347 405h8v8h-8zM355 413h8v8h-8zM379 429h8v8h-8zM491 461h8v8h-8zM515 469h8v8h-8zM547 477h8v8h-8z"/>
<path fill="#699696" d="M491 197h8v8h-8zM451 205h8v8h-8zM115 221h8v8h-8zM387 221h8v8h-8zM91 229h8v8h-8zM83 237h8v8h-8zM107 261h8v8h-8zM187 261h8v8h-8zM187 277h8v8h-8zM299 341h8v8h-8zM315 365h8v8h-8zM427 437h8v8h-8zM435 445h8v8h-8zM475 453h8v8h-8zM507 461h8v8h-8zM531 469h8v8h-8z"/>
<path fill="#6a9595" d="M499 197h8v8h-8zM531 197h8v8h-8zM459 205h8v8h-8zM403 213h8v8h-8zM547 221h8v8h-8zM379 229h8v8h-8zM99 253h8v8h-8zM339 261h8v8h-8zM179 285h8v8h-8zM291 309h8v8h-8zM291 325h8v8h-8zM307 349h8v8h-8zM323 373h8v8h-8zM339 389h8v8h-8zM363 413h8v8h-8zM403 429h8v8h-8zM451 453h8v8h-8zM483 453h8v8h-8zM515 461h8v8h-8zM539 469h8v8h-8zM547 469h8v8h-8z"/>
<path fill="#6c9393" d="M507 197h8v8h-8zM467 205h8v8h-8zM427 213h8v8h-8zM539 213h8v8h-8zM363 245h8v8h-8zM107 253h8v8h-8zM115 261h8v8h-8zM307 285h8v8h-8zM291 317h8v8h-8zM323 365h8v8h-8zM379 421h8v8h-8zM411 429h8v8h-8zM475 445h8v8h-8zM499 453h8v8h-8zM531 461h8v8h-8zM539 461h8v8h-8zM547 461h8v8h-8z"/>
<path fill="#6e9191" d="M515 197h8v8h-8zM531 205h8v8h-8zM179 253h8v8h-8zM299 309h8v8h-8zM299 325h8v8h-8zM339 381h8v8h-8zM371 413h8v8h-8zM395 421h8v8h-8zM419 429h8v8h-8zM459 445h8v8h-8zM491 445h8v8h-8zM515 453h8v8h-8zM523 453h8v8h-8z"/>
<path fill="#6f9090" d="M523 197h8v8h-8zM483 205h8v8h-8zM443 213h8v8h-8zM539 221h8v8h-8zM163 229h8v8h-8zM107 245h8v8h-8zM307 301h8v8h-8zM323 357h8v8h-8zM347 389h8v8h-8zM363 405h8v8h-8zM427 429h8v8h-8zM475 437h8v8h-8zM451 445h8v8h-8zM499 445h8v8h-8zM547 445h8v8h-8zM531 453h8v8h-8zM539 453h8v8h-8z"/>
<path fill="#629d9d" d="M419 205h8v8h-8zM547 205h8v8h-8zM67 221h8v8h-8zM371 229h8v8h-8zM187 253h8v8h-8zM75 261h8v8h-8zM83 261h8v8h-8zM99 269h8v8h-8zM123 285h8v8h-8zM171 293h8v8h-8zM275 325h8v8h-8zM283 341h8v8h-8zM299 365h8v8h-8zM315 389h8v8h-8zM323 397h8v8h-8zM339 413h8v8h-8zM347 421h8v8h-8zM379 437h8v8h-8zM403 445h8v8h-8zM427 453h8v8h-8zM475 469h8v8h-8zM507 477h8v8h-8z"/>
<path fill="#659a9a" d="M435 205h8v8h-8zM83 221h8v8h-8zM67 229h8v8h-8zM59 245h8v8h-8zM75 253h8v8h-8zM83 253h8v8h-8zM107 269h8v8h-8zM155 301h8v8h-8zM291 341h8v8h-8zM307 365h8v8h-8zM323 389h8v8h-8zM355 421h8v8h-8zM363 429h8v8h-8zM403 437h8v8h-8zM427 445h8v8h-8zM451 461h8v8h-8zM475 461h8v8h-8zM499 469h8v8h-8zM531 477h8v8h-8z"/>
<path fill="#6d9292" d="M475 205h8v8h-8zM435 213h8v8h-8zM99 229h8v8h-8zM123 229h8v8h-8zM547 229h8v8h-8zM99 237h8v8h-8zM171 237h8v8h-8zM99 245h8v8h-8zM355 253h8v8h-8zM163 293h8v8h-8zM307 341h8v8h-8zM331 373h8v8h-8zM387 421h8v8h-8zM435 437h8v8h-8zM443 445h8v8h-8zM483 445h8v8h-8zM507 453h8v8h-8zM547 453h8v8h-8z"/>
<path fill="#718e8e" d="M491 205h8v8h-8zM531 213h8v8h-8zM107 237h8v8h-8zM547 237h8v8h-8zM323 269h8v8h-8zM315 277h8v8h-8zM315 341h8v8h-8zM467 437h8v8h-8zM491 437h8v8h-8zM515 445h8v8h-8zM523 445h8v8h-8zM531 445h8v8h-8z"/>
<path fill="#728d8d" d="M499 205h8v8h-8zM459 213h8v8h-8zM395 221h8v8h-8zM115 229h8v8h-8zM131 285h8v8h-8zM139 293h8v8h-8zM307 309h8v8h-8zM307 325h8v8h-8zM339 373h8v8h-8zM379 413h8v8h-8zM411 421h8v8h-8zM435 429h8v8h-8zM547 429h8v8h-8zM443 437h8v8h-8zM499 437h8v8h-8zM539 445h8v8h-8z"/>
<path fill="#748b8b" d="M507 205h8v8h-8zM403 221h8v8h-8zM411 221h8v8h-8zM379 237h8v8h-8zM171 245h8v8h-8zM547 245h8v8h-8zM115 253h8v8h-8zM347 261h8v8h-8zM171 285h8v8h-8zM307 317h8v8h-8zM315 333h8v8h-8zM339 365h8v8h-8zM363 397h8v8h-8zM419 421h8v8h-8zM483 429h8v8h-8zM523 437h8v8h-8zM531 437h8v8h-8zM539 437h8v8h-8z"/>
<path fill="#758a8a" d="M515 205h8v8h-8zM475 213h8v8h-8zM419 221h8v8h-8zM427 221h8v8h-8zM531 221h8v8h-8zM371 245h8v8h-8zM179 261h8v8h-8zM323 341h8v8h-8zM355 389h8v8h-8zM395 413h8v8h-8zM547 413h8v8h-8zM427 421h8v8h-8zM491 429h8v8h-8zM499 429h8v8h-8zM539 429h8v8h-8z"/>
<path fill="#738c8c" d="M523 205h8v8h-8zM467 213h8v8h-8zM139 229h8v8h-8zM147 229h8v8h-8zM155 229h8v8h-8zM387 229h8v8h-8zM539 229h8v8h-8zM179 277h8v8h-8zM323 349h8v8h-8zM331 357h8v8h-8zM347 381h8v8h-8zM371 405h8v8h-8zM387 413h8v8h-8zM547 421h8v8h-8zM475 429h8v8h-8zM451 437h8v8h-8zM459 437h8v8h-8zM507 437h8v8h-8zM515 437h8v8h-8z"/>
<path fill="#6b9494" d="M411 213h8v8h-8zM419 213h8v8h-8zM91 237h8v8h-8zM371 237h8v8h-8zM91 245h8v8h-8zM187 269h8v8h-8zM315 269h8v8h-8zM123 277h8v8h-8zM299 301h8v8h-8zM299 333h8v8h-8zM315 357h8v8h-8zM331 381h8v8h-8zM347 397h8v8h-8zM355 405h8v8h-8zM371 421h8v8h-8zM467 445h8v8h-8zM491 453h8v8h-8zM523 461h8v8h-8z"/>
<path fill="#708f8f" d="M451 213h8v8h-8zM107 229h8v8h-8zM131 229h8v8h-8zM307 293h8v8h-8zM147 301h8v8h-8zM299 317h8v8h-8zM307 333h8v8h-8zM331 365h8v8h-8zM355 397h8v8h-8zM403 421h8v8h-8zM483 437h8v8h-8zM547 437h8v8h-8zM507 445h8v8h-8z"/>
<path fill="#778888" d="M483 213h8v8h-8zM523 213h8v8h-8zM443 221h8v8h-8zM179 269h8v8h-8zM331 269h8v8h-8zM315 285h8v8h-8zM315 293h8v8h-8zM315 309h8v8h-8zM315 325h8v8h-8zM331 349h8v8h-8zM347 373h8v8h-8zM403 413h8v8h-8zM435 421h8v8h-8zM483 421h8v8h-8zM451 429h8v8h-8zM531 429h8v8h-8z"/>
<path fill="#788787" d="M491 213h8v8h-8zM451 221h8v8h-8zM115 237h8v8h-8zM547 253h8v8h-8zM155 293h8v8h-8zM323 333h8v8h-8zM339 357h8v8h-8zM547 397h8v8h-8zM475 413h8v8h-8zM539 413h8v8h-8zM475 421h8v8h-8zM491 421h8v8h-8zM499 421h8v8h-8zM507 421h8v8h-8z"/>
<path fill="#7a8585" d="M499 213h8v8h-8zM459 221h8v8h-8zM539 245h8v8h-8zM323 277h8v8h-8zM331 341h8v8h-8zM347 365h8v8h-8zM547 381h8v8h-8zM379 405h8v8h-8zM483 405h8v8h-8zM419 413h8v8h-8zM491 413h8v8h-8zM451 421h8v8h-8zM459 421h8v8h-8zM467 421h8v8h-8zM531 421h8v8h-8z"/>
<path fill="#7b8484" d="M507 213h8v8h-8zM467 221h8v8h-8zM523 221h8v8h-8zM395 229h8v8h-8zM115 245h8v8h-8zM171 253h8v8h-8zM355 261h8v8h-8zM339 269h8v8h-8zM323 325h8v8h-8zM339 349h8v8h-8zM539 397h8v8h-8zM387 405h8v8h-8zM395 405h8v8h-8zM467 413h8v8h-8zM499 413h8v8h-8zM507 413h8v8h-8zM515 413h8v8h-8zM531 413h8v8h-8z"/>
<path fill="#7d8282" d="M515 213h8v8h-8zM475 221h8v8h-8zM403 229h8v8h-8zM379 245h8v8h-8zM131 277h8v8h-8zM171 277h8v8h-8zM323 309h8v8h-8zM547 365h8v8h-8zM475 405h8v8h-8zM499 405h8v8h-8zM531 405h8v8h-8z"/>
<path fill="#768989" d="M435 221h8v8h-8zM539 237h8v8h-8zM363 253h8v8h-8zM123 269h8v8h-8zM315 301h8v8h-8zM547 405h8v8h-8zM539 421h8v8h-8zM443 429h8v8h-8zM467 429h8v8h-8zM507 429h8v8h-8zM515 429h8v8h-8zM523 429h8v8h-8z"/>
<path fill="#7e8181" d="M483 221h8v8h-8zM411 229h8v8h-8zM419 229h8v8h-8zM523 229h8v8h-8zM371 253h8v8h-8zM539 253h8v8h-8zM123 261h8v8h-8zM163 285h8v8h-8zM323 317h8v8h-8zM339 341h8v8h-8zM363 381h8v8h-8zM539 381h8v8h-8zM491 397h8v8h-8zM531 397h8v8h-8zM403 405h8v8h-8zM507 405h8v8h-8zM515 405h8v8h-8zM435 413h8v8h-8zM443 413h8v8h-8zM451 413h8v8h-8zM459 413h8v8h-8z"/>
<path fill="#807f7f" d="M491 221h8v8h-8zM515 221h8v8h-8zM435 229h8v8h-8zM443 229h8v8h-8zM163 245h8v8h-8zM531 245h8v8h-8zM323 293h8v8h-8zM547 349h8v8h-8zM531 389h8v8h-8zM499 397h8v8h-8zM507 397h8v8h-8zM411 405h8v8h-8zM467 405h8v8h-8z"/>
<path fill="#827d7d" d="M499 221h8v8h-8zM459 229h8v8h-8zM523 237h8v8h-8zM171 269h8v8h-8zM347 269h8v8h-8zM547 341h8v8h-8zM539 357h8v8h-8zM531 373h8v8h-8zM499 389h8v8h-8z"/>
<path fill="#837c7c" d="M507 221h8v8h-8zM467 229h8v8h-8zM531 253h8v8h-8zM547 277h8v8h-8zM147 293h8v8h-8zM331 317h8v8h-8zM547 333h8v8h-8zM347 341h8v8h-8zM355 357h8v8h-8zM363 373h8v8h-8zM507 389h8v8h-8zM523 389h8v8h-8zM387 397h8v8h-8zM419 405h8v8h-8z"/>
<path fill="#996666" d="M555 221h8v8h-8zM563 221h8v8h-8zM555 229h8v8h-8zM131 245h8v8h-8zM139 245h8v8h-8zM155 261h8v8h-8zM387 261h8v8h-8zM515 349h8v8h-8zM459 381h8v8h-8zM411 389h8v8h-8zM443 389h8v8h-8z"/>
<path fill="#7f8080" d="M427 229h8v8h-8zM363 261h8v8h-8zM547 269h8v8h-8zM323 301h8v8h-8zM331 325h8v8h-8zM347 349h8v8h-8zM547 357h8v8h-8zM355 365h8v8h-8zM539 373h8v8h-8zM371 389h8v8h-8zM523 405h8v8h-8z"/>
<path fill="#817e7e" d="M451 229h8v8h-8zM123 237h8v8h-8zM155 237h8v8h-8zM171 261h8v8h-8zM539 261h8v8h-8zM331 277h8v8h-8zM323 285h8v8h-8zM339 333h8v8h-8zM539 365h8v8h-8zM531 381h8v8h-8zM379 397h8v8h-8zM483 397h8v8h-8zM515 397h8v8h-8zM523 397h8v8h-8z"/>
<path fill="#847b7b" d="M475 229h8v8h-8zM515 229h8v8h-8zM131 237h8v8h-8zM123 253h8v8h-8zM139 285h8v8h-8zM539 349h8v8h-8zM531 365h8v8h-8zM523 381h8v8h-8zM515 389h8v8h-8zM475 397h8v8h-8z"/>
<path fill="#867979" d="M483 229h8v8h-8zM387 245h8v8h-8zM331 309h8v8h-8zM547 317h8v8h-8zM523 373h8v8h-8zM371 381h8v8h-8zM515 381h8v8h-8z"/>
<path fill="#887777" d="M491 229h8v8h-8zM563 229h8v8h-8zM571 229h8v8h-8zM419 237h8v8h-8zM555 237h8v8h-8zM563 237h8v8h-8zM571 237h8v8h-8zM555 245h8v8h-8zM563 245h8v8h-8zM571 245h8v8h-8zM555 253h8v8h-8zM563 253h8v8h-8zM571 253h8v8h-8zM371 261h8v8h-8zM555 261h8v8h-8zM563 261h8v8h-8zM571 261h8v8h-8zM555 269h8v8h-8zM563 269h8v8h-8zM571 269h8v8h-8zM163 277h8v8h-8zM555 277h8v8h-8zM563 277h8v8h-8zM571 277h8v8h-8zM555 285h8v8h-8zM563 285h8v8h-8zM571 285h8v8h-8zM555 293h8v8h-8zM563 293h8v8h-8zM571 293h8v8h-8zM331 301h8v8h-8zM555 301h8v8h-8zM563 301h8v8h-8zM571 301h8v8h-8zM547 309h8v8h-8zM555 309h8v8h-8zM563 309h8v8h-8zM571 309h8v8h-8zM555 317h8v8h-8zM563 317h8v8h-8zM571 317h8v8h-8zM539 325h8v8h-8zM555 325h8v8h-8zM563 325h8v8h-8zM571 325h8v8h-8zM347 333h8v8h-8zM555 333h8v8h-8zM563 333h8v8h-8zM571 333h8v8h-8zM555 341h8v8h-8zM563 341h8v8h-8zM571 341h8v8h-8zM555 349h8v8h-8zM563 349h8v8h-8zM571 349h8v8h-8zM555 357h8v8h-8zM563 357h8v8h-8zM571 357h8v8h-8zM555 365h8v8h-8zM563 365h8v8h-8zM571 365h8v8h-8zM555 373h8v8h-8zM563 373h8v8h-8zM571 373h8v8h-8zM555 381h8v8h-8zM563 381h8v8h-8zM571 381h8v8h-8zM483 389h8v8h-8zM555 389h8v8h-8zM563 389h8v8h-8zM571 389h8v8h-8zM555 397h8v8h-8zM563 397h8v8h-8zM571 397h8v8h-8zM555 405h8v8h-8zM563 405h8v8h-8zM571 405h8v8h-8zM555 413h8v8h-8zM563 413h8v8h-8zM571 413h8v8h-8zM555 421h8v8h-8z"/>
<path fill="#897676" d="M499 229h8v8h-8zM427 237h8v8h-8zM435 237h8v8h-8zM123 245h8v8h-8zM523 253h8v8h-8zM355 269h8v8h-8zM539 277h8v8h-8zM155 285h8v8h-8zM331 293h8v8h-8zM531 341h8v8h-8zM435 405h8v8h-8zM443 405h8v8h-8zM451 405h8v8h-8z"/>
<path fill="#8a7575" d="M507 229h8v8h-8zM443 237h8v8h-8zM131 269h8v8h-8zM331 285h8v8h-8zM339 317h8v8h-8zM523 357h8v8h-8zM499 381h8v8h-8zM403 397h8v8h-8z"/>
<path fill="#798686" d="M531 229h8v8h-8zM163 237h8v8h-8zM315 317h8v8h-8zM355 381h8v8h-8zM363 389h8v8h-8zM547 389h8v8h-8zM371 397h8v8h-8zM539 405h8v8h-8zM411 413h8v8h-8zM483 413h8v8h-8zM443 421h8v8h-8zM515 421h8v8h-8zM523 421h8v8h-8zM459 429h8v8h-8z"/>
<path fill="#877878" d="M139 237h8v8h-8zM147 237h8v8h-8zM403 237h8v8h-8zM411 237h8v8h-8zM515 237h8v8h-8zM163 253h8v8h-8zM379 253h8v8h-8zM531 261h8v8h-8zM339 277h8v8h-8zM547 285h8v8h-8zM539 333h8v8h-8zM355 349h8v8h-8zM531 349h8v8h-8zM363 365h8v8h-8zM523 365h8v8h-8zM507 381h8v8h-8zM379 389h8v8h-8zM467 397h8v8h-8zM427 405h8v8h-8z"/>
<path fill="#7c8383" d="M387 237h8v8h-8zM531 237h8v8h-8zM547 261h8v8h-8zM331 333h8v8h-8zM347 357h8v8h-8zM355 373h8v8h-8zM547 373h8v8h-8zM539 389h8v8h-8zM491 405h8v8h-8zM427 413h8v8h-8zM523 413h8v8h-8z"/>
<path fill="#857a7a" d="M395 237h8v8h-8zM523 245h8v8h-8zM539 269h8v8h-8zM339 325h8v8h-8zM547 325h8v8h-8zM539 341h8v8h-8zM531 357h8v8h-8zM491 389h8v8h-8zM395 397h8v8h-8zM459 405h8v8h-8z"/>
<path fill="#8b7474" d="M451 237h8v8h-8zM459 237h8v8h-8zM515 245h8v8h-8zM531 269h8v8h-8zM547 293h8v8h-8zM547 301h8v8h-8zM355 341h8v8h-8zM363 357h8v8h-8zM371 373h8v8h-8zM515 373h8v8h-8zM387 389h8v8h-8zM475 389h8v8h-8zM459 397h8v8h-8z"/>
<path fill="#8c7373" d="M467 237h8v8h-8zM155 245h8v8h-8zM539 285h8v8h-8zM347 325h8v8h-8z"/>
<path fill="#8d7272" d="M475 237h8v8h-8zM507 237h8v8h-8zM163 261h8v8h-8zM523 261h8v8h-8zM163 269h8v8h-8zM339 309h8v8h-8zM539 317h8v8h-8zM491 381h8v8h-8zM411 397h8v8h-8z"/>
<path fill="#8e7171" d="M483 237h8v8h-8zM395 245h8v8h-8zM347 277h8v8h-8zM531 277h8v8h-8zM531 333h8v8h-8zM507 373h8v8h-8zM379 381h8v8h-8zM395 389h8v8h-8zM467 389h8v8h-8zM451 397h8v8h-8z"/>
<path fill="#8f7070" d="M491 237h8v8h-8zM387 253h8v8h-8zM515 253h8v8h-8zM363 269h8v8h-8zM339 301h8v8h-8zM355 333h8v8h-8zM363 349h8v8h-8zM523 349h8v8h-8zM371 365h8v8h-8zM419 397h8v8h-8z"/>
<path fill="#916e6e" d="M499 237h8v8h-8zM411 245h8v8h-8zM507 245h8v8h-8zM339 293h8v8h-8zM539 309h8v8h-8zM347 317h8v8h-8zM499 373h8v8h-8z"/>
<path fill="#946b6b" d="M147 245h8v8h-8zM443 245h8v8h-8zM451 245h8v8h-8zM507 253h8v8h-8zM531 285h8v8h-8zM515 357h8v8h-8zM491 373h8v8h-8zM387 381h8v8h-8zM427 397h8v8h-8zM435 397h8v8h-8z"/>
<path fill="#906f6f" d="M403 245h8v8h-8zM379 261h8v8h-8zM523 269h8v8h-8zM139 277h8v8h-8zM515 365h8v8h-8zM483 381h8v8h-8z"/>
<path fill="#926d6d" d="M419 245h8v8h-8zM427 245h8v8h-8zM131 261h8v8h-8zM515 261h8v8h-8zM155 277h8v8h-8zM339 285h8v8h-8zM531 325h8v8h-8zM459 389h8v8h-8z"/>
<path fill="#936c6c" d="M435 245h8v8h-8zM155 253h8v8h-8zM371 269h8v8h-8zM147 285h8v8h-8zM539 293h8v8h-8zM347 309h8v8h-8zM355 325h8v8h-8zM363 341h8v8h-8zM523 341h8v8h-8zM371 357h8v8h-8zM379 373h8v8h-8zM475 381h8v8h-8zM403 389h8v8h-8zM443 397h8v8h-8z"/>
<path fill="#956a6a" d="M459 245h8v8h-8zM467 245h8v8h-8zM451 389h8v8h-8z"/>
<path fill="#966969" d="M475 245h8v8h-8zM499 245h8v8h-8zM355 277h8v8h-8zM523 277h8v8h-8zM347 301h8v8h-8zM539 301h8v8h-8zM507 365h8v8h-8zM467 381h8v8h-8z"/>
<path fill="#976868" d="M483 245h8v8h-8zM491 245h8v8h-8zM131 253h8v8h-8zM531 317h8v8h-8zM363 333h8v8h-8zM371 349h8v8h-8zM379 365h8v8h-8zM483 373h8v8h-8z"/>
<path fill="#a65959" d="M139 253h8v8h-8zM427 261h8v8h-8zM435 261h8v8h-8zM507 277h8v8h-8zM515 325h8v8h-8zM395 365h8v8h-8zM403 373h8v8h-8z"/>
<path fill="#a05f5f" d="M147 253h8v8h-8zM475 253h8v8h-8zM483 253h8v8h-8zM507 269h8v8h-8zM531 301h8v8h-8zM363 317h8v8h-8zM371 333h8v8h-8zM379 349h8v8h-8zM499 357h8v8h-8zM387 365h8v8h-8zM459 373h8v8h-8zM443 381h8v8h-8z"/>
<path fill="#986767" d="M395 253h8v8h-8zM155 269h8v8h-8zM515 269h8v8h-8zM347 285h8v8h-8zM347 293h8v8h-8zM355 317h8v8h-8zM523 333h8v8h-8zM499 365h8v8h-8zM395 381h8v8h-8z"/>
<path fill="#9a6565" d="M403 253h8v8h-8zM507 261h8v8h-8zM379 269h8v8h-8zM531 293h8v8h-8zM355 309h8v8h-8zM475 373h8v8h-8z"/>
<path fill="#9b6464" d="M411 253h8v8h-8zM419 253h8v8h-8zM499 253h8v8h-8zM531 309h8v8h-8zM491 365h8v8h-8z"/>
<path fill="#9c6363" d="M427 253h8v8h-8zM147 277h8v8h-8zM523 285h8v8h-8zM355 301h8v8h-8zM363 325h8v8h-8zM523 325h8v8h-8zM371 341h8v8h-8zM379 357h8v8h-8zM387 373h8v8h-8zM403 381h8v8h-8zM451 381h8v8h-8zM419 389h8v8h-8z"/>
<path fill="#9d6262" d="M435 253h8v8h-8zM443 253h8v8h-8zM139 269h8v8h-8zM363 277h8v8h-8zM515 341h8v8h-8zM467 373h8v8h-8zM435 389h8v8h-8z"/>
<path fill="#9e6161" d="M451 253h8v8h-8zM459 253h8v8h-8zM515 277h8v8h-8zM507 357h8v8h-8zM483 365h8v8h-8z"/>
<path fill="#9f6060" d="M467 253h8v8h-8zM355 285h8v8h-8zM355 293h8v8h-8zM427 389h8v8h-8z"/>
<path fill="#a15e5e" d="M491 253h8v8h-8zM395 261h8v8h-8zM499 261h8v8h-8zM523 317h8v8h-8zM475 365h8v8h-8zM395 373h8v8h-8z"/>
<path fill="#a55a5a" d="M139 261h8v8h-8zM419 261h8v8h-8zM363 301h8v8h-8zM523 309h8v8h-8zM483 357h8v8h-8z"/>
<path fill="#a45b5b" d="M147 261h8v8h-8zM411 261h8v8h-8zM515 285h8v8h-8zM371 325h8v8h-8zM379 341h8v8h-8zM387 357h8v8h-8zM467 365h8v8h-8zM435 381h8v8h-8z"/>
<path fill="#a35c5c" d="M403 261h8v8h-8zM147 269h8v8h-8zM371 277h8v8h-8zM363 309h8v8h-8zM507 349h8v8h-8zM451 373h8v8h-8z"/>
<path fill="#a75858" d="M443 261h8v8h-8zM451 261h8v8h-8zM379 277h8v8h-8zM363 293h8v8h-8zM507 341h8v8h-8zM459 365h8v8h-8zM443 373h8v8h-8zM427 381h8v8h-8z"/>
<path fill="#a85757" d="M459 261h8v8h-8zM499 269h8v8h-8zM363 285h8v8h-8zM523 301h8v8h-8zM371 317h8v8h-8zM379 333h8v8h-8zM387 349h8v8h-8zM475 357h8v8h-8zM419 381h8v8h-8z"/>
<path fill="#a95656" d="M467 261h8v8h-8zM475 261h8v8h-8zM483 261h8v8h-8zM491 261h8v8h-8zM491 349h8v8h-8z"/>
<path fill="#a25d5d" d="M387 269h8v8h-8zM523 293h8v8h-8zM515 333h8v8h-8zM491 357h8v8h-8zM411 381h8v8h-8z"/>
<path fill="#ab5454" d="M395 269h8v8h-8zM371 309h8v8h-8zM515 317h8v8h-8zM395 357h8v8h-8zM467 357h8v8h-8zM411 373h8v8h-8zM435 373h8v8h-8z"/>
<path fill="#ad5252" d="M403 269h8v8h-8zM371 301h8v8h-8z"/>
<path fill="#ae5151" d="M411 269h8v8h-8zM419 269h8v8h-8zM499 277h8v8h-8zM459 357h8v8h-8zM443 365h8v8h-8zM419 373h8v8h-8zM427 373h8v8h-8z"/>
<path fill="#af5050" d="M427 269h8v8h-8zM491 269h8v8h-8zM475 349h8v8h-8z"/>
<path fill="#b04f4f" d="M435 269h8v8h-8zM443 269h8v8h-8zM371 293h8v8h-8zM515 301h8v8h-8zM515 309h8v8h-8zM379 317h8v8h-8zM387 333h8v8h-8zM395 349h8v8h-8zM403 357h8v8h-8zM411 365h8v8h-8z"/>
<path fill="#b14e4e" d="M451 269h8v8h-8zM459 269h8v8h-8zM467 269h8v8h-8zM475 269h8v8h-8zM371 285h8v8h-8zM507 325h8v8h-8zM451 357h8v8h-8zM435 365h8v8h-8z"/>
<path fill="#b24d4d" d="M483 269h8v8h-8zM507 293h8v8h-8zM499 341h8v8h-8zM467 349h8v8h-8z"/>
<path fill="#ac5353" d="M387 277h8v8h-8zM507 285h8v8h-8zM379 325h8v8h-8zM507 333h8v8h-8zM387 341h8v8h-8zM483 349h8v8h-8zM499 349h8v8h-8zM403 365h8v8h-8z"/>
<path fill="#b44b4b" d="M395 277h8v8h-8zM499 285h8v8h-8zM387 325h8v8h-8zM395 341h8v8h-8zM427 365h8v8h-8z"/>
<path fill="#b64949" d="M403 277h8v8h-8zM491 277h8v8h-8zM379 301h8v8h-8zM395 333h8v8h-8zM499 333h8v8h-8zM475 341h8v8h-8zM459 349h8v8h-8z"/>
<path fill="#b74848" d="M411 277h8v8h-8zM379 285h8v8h-8zM403 341h8v8h-8z"/>
<path fill="#b84747" d="M419 277h8v8h-8zM379 293h8v8h-8zM507 301h8v8h-8zM387 317h8v8h-8zM395 325h8v8h-8zM419 357h8v8h-8zM435 357h8v8h-8z"/>
<path fill="#b94646" d="M427 277h8v8h-8zM435 277h8v8h-8zM387 309h8v8h-8zM403 333h8v8h-8zM467 341h8v8h-8zM411 349h8v8h-8zM451 349h8v8h-8zM427 357h8v8h-8z"/>
<path fill="#ba4545" d="M443 277h8v8h-8zM451 277h8v8h-8zM459 277h8v8h-8zM467 277h8v8h-8zM475 277h8v8h-8zM483 277h8v8h-8zM387 285h8v8h-8zM499 293h8v8h-8zM387 301h8v8h-8zM507 309h8v8h-8zM395 317h8v8h-8z"/>
<path fill="#be4141" d="M395 285h8v8h-8zM411 325h8v8h-8zM427 349h8v8h-8zM435 349h8v8h-8z"/>
<path fill="#c03f3f" d="M403 285h8v8h-8zM403 301h8v8h-8zM499 301h8v8h-8zM411 317h8v8h-8zM467 333h8v8h-8zM491 333h8v8h-8zM419 341h8v8h-8zM451 341h8v8h-8z"/>
<path fill="#c13e3e" d="M411 285h8v8h-8zM403 293h8v8h-8zM411 309h8v8h-8zM419 333h8v8h-8zM427 341h8v8h-8z"/>
<path fill="#c23d3d" d="M419 285h8v8h-8zM427 285h8v8h-8zM435 285h8v8h-8zM443 285h8v8h-8zM451 285h8v8h-8zM459 285h8v8h-8zM483 285h8v8h-8zM411 293h8v8h-8zM491 293h8v8h-8zM411 301h8v8h-8zM419 301h8v8h-8zM419 309h8v8h-8zM419 317h8v8h-8zM419 325h8v8h-8zM427 333h8v8h-8z"/>
<path fill="#c33c3c" d="M467 285h8v8h-8zM475 285h8v8h-8zM419 293h8v8h-8zM427 325h8v8h-8zM435 333h8v8h-8zM459 333h8v8h-8zM435 341h8v8h-8zM443 341h8v8h-8z"/>
<path fill="#bc4343" d="M491 285h8v8h-8zM395 309h8v8h-8zM459 341h8v8h-8zM443 349h8v8h-8z"/>
<path fill="#bb4444" d="M387 293h8v8h-8zM403 325h8v8h-8zM499 325h8v8h-8zM411 341h8v8h-8z"/>
<path fill="#bf4040" d="M395 293h8v8h-8zM403 309h8v8h-8zM499 317h8v8h-8zM483 333h8v8h-8z"/>
<path fill="#c43b3b" d="M427 293h8v8h-8zM427 301h8v8h-8zM427 309h8v8h-8zM499 309h8v8h-8zM427 317h8v8h-8zM435 325h8v8h-8z"/>
<path fill="#c63939" d="M435 293h8v8h-8zM435 301h8v8h-8zM435 309h8v8h-8zM435 317h8v8h-8zM451 333h8v8h-8z"/>
<path fill="#c93636" d="M443 293h8v8h-8zM483 293h8v8h-8zM443 301h8v8h-8zM475 325h8v8h-8z"/>
<path fill="#cb3434" d="M451 293h8v8h-8zM459 293h8v8h-8zM475 293h8v8h-8zM451 309h8v8h-8zM451 317h8v8h-8zM483 325h8v8h-8z"/>
<path fill="#cc3333" d="M467 293h8v8h-8zM451 301h8v8h-8z"/>
<path fill="#aa5555" d="M515 293h8v8h-8zM451 365h8v8h-8z"/>
<path fill="#bd4242" d="M395 301h8v8h-8zM403 317h8v8h-8zM411 333h8v8h-8zM475 333h8v8h-8zM419 349h8v8h-8z"/>
<path fill="#d12e2e" d="M459 301h8v8h-8z"/>
<path fill="#d42b2b" d="M467 301h8v8h-8zM483 317h8v8h-8z"/>
<path fill="#d32c2c" d="M475 301h8v8h-8zM467 317h8v8h-8z"/>
<path fill="#d02f2f" d="M483 301h8v8h-8z"/>
<path fill="#c83737" d="M491 301h8v8h-8zM443 309h8v8h-8zM443 317h8v8h-8z"/>
<path fill="#b34c4c" d="M379 309h8v8h-8zM483 341h8v8h-8zM419 365h8v8h-8z"/>
<path fill="#cf3030" d="M459 309h8v8h-8zM459 317h8v8h-8z"/>
<path fill="#d52a2a" d="M467 309h8v8h-8zM475 317h8v8h-8z"/>
<path fill="#db2424" d="M475 309h8v8h-8z"/>
<path fill="#d62929" d="M483 309h8v8h-8z"/>
<path fill="#ce3131" d="M491 309h8v8h-8z"/>
<path fill="#ca3535" d="M491 317h8v8h-8zM451 325h8v8h-8zM459 325h8v8h-8z"/>
<path fill="#b54a4a" d="M507 317h8v8h-8zM491 341h8v8h-8zM403 349h8v8h-8zM411 357h8v8h-8zM443 357h8v8h-8z"/>
<path fill="#c73838" d="M443 325h8v8h-8zM467 325h8v8h-8z"/>
<path fill="#c53a3a" d="M491 325h8v8h-8zM443 333h8v8h-8z"/>
<path fill="#6e9090" d="M315 349h8v8h-8z"/></g>
<g filter="url(#b1)"><path fill="#0af0f0" d="M116 150 L140 148 L160 140 L172 148 L178 180 L177 236 L160 238 L140 238 L128 232 L130 210 L128 190 L122 176 L116 165Z"/></g>
<g filter="url(#b1)"><path fill="#14f0f0" d="M65 167 L80 166 L100 168 L115 172 L125 180 L128 195 L125 207 L112 212 L95 210 L80 200 L70 185Z"/></g>
<path d="M62 160 L80 163 L100 164 L118 168" fill="none" stroke="#3cdcdc" stroke-width="3" filter="url(#b1)"/>
<path d="M84 182 L100 192 L115 202 L132 214" fill="none" stroke="#46cdcd" stroke-width="5" filter="url(#b2)"/>
<rect x="71" y="172" width="3" height="8" fill="#80b300"/><rect x="74" y="182" width="4" height="6" fill="#80b300"/><rect x="78" y="190" width="3" height="8" fill="#80b300"/><rect x="66" y="168" width="4" height="4" fill="#80b300"/><rect x="84" y="198" width="4" height="4" fill="#80b300"/><rect x="118" y="176" width="6" height="4" fill="#80b300"/><rect x="126" y="188" width="4" height="6" fill="#80b300"/><rect x="100" y="215" width="6" height="5" fill="#80b300"/><rect x="108" y="222" width="10" height="4" fill="#80b300"/><rect x="120" y="218" width="5" height="6" fill="#80b300"/><rect x="130" y="150" width="5" height="3" fill="#80b300"/><rect x="122" y="156" width="6" height="3" fill="#80b300"/><rect x="134" y="162" width="4" height="3" fill="#80b300"/>
<g filter="url(#b2)"><path fill="#ff0000" d="M460 298 L470 302 L479 309 L484 317 L479 323 L471 325 L463 321 L459 311Z"/></g>
<g filter="url(#b3)"><path fill="#00d2ff" d="M196 282 L203 268 L210 254 L222 240 L241.7 228.6 L266 219.5 L290 213.4 L311.6 207.4 L330 201 L354 192 L385 181 L395 178 L383 200 L370 218 L362 232 L330 242 L300 252 L270 262 L245 270 L228 280 L215 292 L200 295Z"/></g>
<path d="M200 280 L204 272 L213.4 261 L226 251 L240 244 L255 239 L270 235 L287 231.5 L300 227 L312 222 L322 217 L332 213 L342 209 L356 206 L372 204" fill="none" stroke="#00c3ff" stroke-width="22" stroke-linecap="round" stroke-linejoin="round" filter="url(#b3)"/>
<path d="M200 280 L204 272 L213.4 261 L226 251 L240 244 L255 239 L270 235 L287 231.5 L300 227 L312 222 L322 217 L332 213 L342 209 L356 206 L372 204" fill="none" stroke="#0a8cff" stroke-width="12" stroke-linecap="round" stroke-linejoin="round" filter="url(#b2)"/>
<path d="M200 280 L204 272 L213.4 261 L226 251 L240 244 L255 239 L270 235 L287 231.5 L300 227 L312 222 L322 217 L332 213 L342 209" fill="none" stroke="#0050ff" stroke-width="5" stroke-linecap="round" stroke-linejoin="round" filter="url(#b2)"/>
<path fill="#0af0f5" d="M360 177 L395 175 L422 176 L422 222 L408 226 L395 230 L370 230 L360 190Z"/>
<ellipse cx="356" cy="207" rx="32" ry="19" fill="#0a82ff" filter="url(#b4)" transform="rotate(-15 356 207)"/>
<path d="M214 282 L226 271 L240 262 L255 256 L270 252 L290 248 L310 242 L330 236 L350 232 L362 230" fill="none" stroke="#00ffff" stroke-width="6" stroke-linejoin="round" filter="url(#b2)"/>
<path fill="#7d9696" d="M384 190 L395 188 L405 191 L409 200 L408 215 L402 224 L392 228 L383 230 L380 220 L382 205Z"/>
<path d="M226 350 L240 362 L259 378 L280 396 L305 418" fill="none" stroke="#3ce6e6" stroke-width="5" stroke-linecap="round" filter="url(#b3)" opacity="0.45"/>
<path fill="#80b300" d="M59 29 L556 29 L556 486 L462 486 L459 483 L449 471 L447 465 L455 463 L463 457 L473 449 L484.7 443 L492.6 435 L492.8 428.8 L490.7 416 L484.4 405.6 L478 399 L463 397 L453 398 L449 406 L445 411 L436 406 L425 403 L420 398 L420 385 L424 374 L431 366 L436 361 L444 350 L451 342 L457.5 334 L466 327 L476 323.5 L483 317 L479 310 L471 302 L460 295 L450 290 L441 287.6 L435 285.3 L429 282.3 L421.4 279.3 L377.4 279.3 L372.8 277.8 L368 270 L363.7 262.5 L360 255 L359.5 240 L356 232 L358 226 L370 224 L377 222 L392 221 L405 219 L422 215 L422 182 L415 177 L395 176 L385 179 L360 184 L330 186 L300 186 L270 186 L252 188 L232 195 L217 199 L215 225 L205 240 L198 255 L196 268 L198 280 L204 290 L209 300 L212 308 L220 316 L226 325 L230 338 L230 346 L226 352 L211 350 L196 348 L184 350 L170 353 L171 341 L168 329 L164 310 L159 292 L153 280 L150 262 L140 245 L136 240 L150 236 L165 235 L177 232 L176 200 L170 190 L169 155 L160 147 L135 150 L110 147 L85 137 L59 134Z"/>
<path fill="#6e9696" d="M59 48.5 L67 49.8 L69 54.7 L78.8 58.6 L88.6 60.6 L98.5 60.6 L107 61.5 L110 63 L106.4 65.6 L98.5 66.5 L88.6 67.5 L78.8 67.5 L70.9 66.5 L65 68.5 L59 69.5Z"/>
<rect x="61" y="67" width="4.4" height="25" fill="#14f5f5"/><rect x="61" y="92" width="2.5" height="47" fill="#14f5f5"/><rect x="67.5" y="80" width="15" height="10.7" fill="#14f5f5"/><rect x="80" y="69.4" width="6.7" height="23.4" fill="#14f5f5"/><rect x="88.8" y="82" width="6.2" height="17" fill="#14f5f5"/><rect x="91" y="71.5" width="10.5" height="10.5" fill="#14f5f5"/><rect x="65.4" y="99" width="6.4" height="11" fill="#14f5f5"/><rect x="78" y="114" width="4.4" height="17" fill="#14f5f5"/><rect x="71.8" y="129" width="6.2" height="4" fill="#14f5f5"/><rect x="91" y="110" width="6.3" height="6" fill="#14f5f5"/><rect x="82.4" y="101" width="8.6" height="4.6" fill="#14f5f5"/><rect x="70" y="118" width="3" height="8" fill="#14f5f5"/><rect x="95" y="125" width="4" height="10" fill="#14f5f5"/>
<rect x="80" y="72" width="5" height="12" fill="#5ac8dc"/><rect x="70" y="83" width="6" height="5" fill="#5ac8dc"/>
<path fill="#50c8d2" d="M78 47 L90 46 L97 48 L99 55 L92 58 L80 57Z" opacity="0.8"/>
<path fill="#14f5f5" d="M61 36 L66 36 L68 47 L62 48Z" opacity="0.7"/>
<rect x="59" y="67" width="4" height="67" fill="#14f5f5"/>
<path d="M108 61 L112 56 L115.3 50.7 L118.3 42.8 L121.3 34.9 L123.5 29" fill="none" stroke="#32d2dc" stroke-width="2.6"/>
<path fill="#14f5f5" d="M120 29 L170 29 L170 33 L146 33 L146 31 L120 31Z"/>
<path fill="#14f5f5" d="M100 77 L109 77 L109 90 L123 95 L132 95 L140 102 L150 107 L160 105 L170 101 L180 100 L186 98 L190 101 L200 101 L207 100 L215 102 L205 113 L195 125 L189 140 L174 146 L160 149 L140 150 L100 148Z"/>
<path fill="#80b300" d="M111 98 L122 99 L123 122 L111 124Z"/>
<path fill="#80b300" d="M124 111 L137 110 L138 124 L124 124Z"/>
<path fill="#80b300" d="M153 106 L162 105 L169 107 L169 140 L160 144 L153 143Z"/>
<path fill="#80b300" d="M100 128 L110 128 L110 140 L100 142Z"/>
<rect x="128" y="130" width="6" height="6" fill="#80b300"/><rect x="142" y="114" width="5" height="8" fill="#80b300"/><rect x="176" y="112" width="6" height="8" fill="#80b300"/><rect x="184" y="104" width="5" height="6" fill="#80b300"/><rect x="140" y="132" width="6" height="5" fill="#80b300"/><rect x="116" y="130" width="5" height="6" fill="#80b300"/>
<rect x="186" y="61.5" width="18" height="8" fill="#14f5f5"/><rect x="190" y="69" width="10" height="11" fill="#14f5f5"/><rect x="213.5" y="74" width="10.5" height="6" fill="#14f5f5"/><rect x="193" y="36" width="6" height="10" fill="#14f5f5"/><rect x="198" y="46" width="5" height="6" fill="#14f5f5"/><rect x="206" y="40" width="4" height="8" fill="#14f5f5"/><rect x="175" y="44" width="4" height="5" fill="#14f5f5"/><rect x="160" y="52" width="4" height="4" fill="#14f5f5"/><rect x="140" y="84" width="6" height="6" fill="#14f5f5"/><rect x="125" y="78" width="5" height="4" fill="#14f5f5"/>
<ellipse cx="268" cy="148" rx="62" ry="32" fill="#76a60a" opacity="0.55" filter="url(#b8)"/>
<g filter="url(#b2)"><rect x="195" y="86" width="11" height="15" fill="#5a9628"/><rect x="188" y="90" width="28" height="8" fill="#6ea01a"/></g>
<g filter="url(#b1)"><rect x="227" y="166" width="14" height="8" fill="#3f8a30"/><rect x="244" y="167" width="17" height="7" fill="#5a9a25"/><rect x="270" y="168" width="10" height="5" fill="#6ea018"/></g>
<rect x="200" y="112" width="5" height="8" fill="#14f5f5"/><rect x="206" y="120" width="4" height="10" fill="#14f5f5"/><rect x="201" y="132" width="6" height="5" fill="#14f5f5"/><rect x="210" y="128" width="3" height="6" fill="#14f5f5"/><rect x="203" y="144" width="5" height="4" fill="#14f5f5"/><rect x="212" y="140" width="4" height="4" fill="#14f5f5"/><rect x="198" y="150" width="4" height="6" fill="#14f5f5"/>
<path d="M150 150 L170 143 L185 132 L197 118 L207 110 L222 105 L240 98 L257 91 L280 91 L298 91 L304 89 L312.8 80 L320 65.5 L325.6 51 L331 36.3 L335 29" fill="none" stroke="#28e1e6" stroke-width="9" stroke-linejoin="round"/>
<rect x="287" y="29" width="15" height="4.5" fill="#338033"/>
<path d="M237 31 L248 40 L257 50 L265 57 L276 59 L282 57 L287 49 L294.6 44 L304 38.5 L313 35 L318 31" fill="none" stroke="#14f5f5" stroke-width="2.6" stroke-linejoin="round"/>
<path d="M257 86 L266 80 L281 74 L289 66.5 L298 61 L309 51 L319 42 L324 34" fill="none" stroke="#14f5f5" stroke-width="3.2" stroke-linejoin="round"/>
<path d="M136 240 L118 258 L104 274 L97 281" fill="none" stroke="#80b300" stroke-width="2.6"/>
<path fill="#80b300" d="M88 277 L97 275 L104 277 L107 282 L106 289 L100 293 L92 293 L86 289 L86 282Z"/>
<path fill="#80b300" d="M129 295 L133 294 L132 300 L127 304 L124 302Z"/>
<rect x="143" y="205" width="5" height="4" fill="#80b300"/><rect x="150" y="196" width="4" height="6" fill="#80b300"/><rect x="136" y="222" width="6" height="4" fill="#80b300"/><rect x="155" y="224" width="6" height="4" fill="#80b300"/><rect x="133" y="210" width="4" height="5" fill="#80b300"/><rect x="162" y="214" width="8" height="4" fill="#80b300"/><rect x="148" y="180" width="6" height="3" fill="#80b300"/><rect x="128" y="178" width="8" height="3" fill="#80b300"/><rect x="115" y="190" width="5" height="3" fill="#80b300"/>
<path fill="#7aa0a0" d="M217 199 L232 195 L252 188 L262 187 L262 200 L258 214 L252 221 L226 225 L215 225Z"/>
<rect x="222" y="200" width="8" height="6" fill="#28d2dc"/><rect x="240" y="205" width="6" height="5" fill="#28d2dc"/><rect x="233" y="214" width="10" height="4" fill="#28d2dc"/><rect x="248" y="198" width="6" height="5" fill="#28d2dc"/><rect x="256" y="206" width="5" height="6" fill="#28d2dc"/><rect x="228" y="208" width="4" height="4" fill="#28d2dc"/>
<rect x="219" y="211" width="5" height="5" fill="#80b300"/><rect x="236" y="201" width="4" height="4" fill="#80b300"/><rect x="244" y="212" width="5" height="4" fill="#80b300"/><rect x="252" y="213" width="4" height="5" fill="#80b300"/><rect x="226" y="219" width="6" height="3" fill="#80b300"/>
<path fill="#0af0f5" d="M262 187 L300 187 L330 187 L345 186 L345 192 L333 193 L310 196 L285 205 L262 214Z"/>
<rect x="270" y="187.5" width="17" height="6" fill="#148cff"/>
<rect x="290" y="189" width="4" height="6" fill="#80b300"/><rect x="300" y="192" width="5" height="5" fill="#80b300"/><rect x="315" y="188" width="4" height="5" fill="#80b300"/><rect x="278" y="196" width="4" height="8" fill="#80b300"/><rect x="268" y="200" width="3" height="8" fill="#80b300"/><rect x="325" y="190" width="3" height="4" fill="#80b300"/>
<path fill="#84a0a0" d="M186 232 L198 226 L214 223 L211 236 L205 248 L200 262 L197 276 L193 286 L187 280 L189 262 L184 248Z"/>
<rect x="190" y="236" width="5" height="4" fill="#80b300"/><rect x="199" y="240" width="4" height="6" fill="#80b300"/><rect x="188" y="252" width="4" height="5" fill="#80b300"/><rect x="194" y="266" width="3" height="6" fill="#80b300"/><rect x="203" y="230" width="5" height="3" fill="#80b300"/><rect x="191" y="274" width="3" height="4" fill="#80b300"/>
<rect x="196" y="248" width="4" height="4" fill="#28d2dc"/><rect x="206" y="236" width="3" height="4" fill="#28d2dc"/><rect x="189" y="243" width="3" height="3" fill="#28d2dc"/>
<path d="M192 282 L195 268 L200 255 L207 240 L216 230 L232 226 L252 222 L262 216 L285 206 L310 196 L336 191 L360 186" fill="none" stroke="#8aa070" stroke-width="5" stroke-linejoin="round"/>
<path d="M196 282 L199 268 L204 255 L211 242 L220 233 L234 229 L253 225 L264 220 L287 209 L312 199 L338 194 L362 189" fill="none" stroke="#80b300" stroke-width="2" stroke-linejoin="round"/>
<rect x="190" y="245" width="5" height="6" fill="#8c9696"/><rect x="196" y="236" width="6" height="5" fill="#8c9696"/><rect x="186" y="255" width="5" height="8" fill="#8c9696"/><rect x="205" y="226" width="6" height="4" fill="#8c9696"/>
<path fill="#338033" d="M372 29 L556 29 L556 486 L462 486 L459 483 L449 471 L447 465 L455 463 L463 457 L473 449 L484.7 443 L492.6 435 L492.8 428.8 L490.7 416 L484.4 405.6 L478 399 L463 397 L453 398 L449 406 L445 411 L436 406 L425 403 L420 398 L420 385 L424 374 L431 366 L436 361 L444 350 L451 342 L457.5 334 L466 327 L476 323.5 L483 317 L479 310 L471 302 L460 295 L450 290 L441 287.6 L435 285.3 L429 282.3 L421.4 279.3 L377.4 279.3 L372.8 277.8 L368 270 L363.7 262.5 L360.6 255 L360.6 240 L370 236 L380 232 L389.5 227.6 L395.6 221.5 L414 217 L437 213 L437 175 L420 168 L402 173 L377 175 L358 174 L344 162 L327 148 L324 137 L327.4 119 L325.6 114.8 L320 105.6 L313 98 L309 88 L311 82 L314.7 78 L325.6 71 L329 67 L334.7 56.4 L340 52.7 L349 49 L360 45.4 L365.8 40 L371 31Z"/>
<g clip-path="url(#landclip)"><path d="M462 486 L459 483 L449 471 L447 465 L455 463 L463 457 L473 449 L484.7 443 L492.6 435 L492.8 428.8 L490.7 416 L484.4 405.6 L478 399 L463 397 L453 398 L449 406 L445 411 L436 406 L425 403 L420 398 L420 385 L424 374 L431 366 L436 361 L444 350 L451 342 L457.5 334 L466 327 L476 323.5 L483 317 L479 310 L471 302 L460 295 L450 290 L441 287.6 L435 285.3 L429 282.3 L421.4 279.3 L377.4 279.3 L372.8 277.8 L368 270 L363.7 262.5 L360 255 L359.5 240 L356 232 L358 226 L370 224 L377 222 L392 221 L405 219 L422 215 L422 182 L415 177 L395 176 L385 179 L360 184 L330 186 L300 186 L270 186 L252 188 L232 195 L217 199 L215 225 L205 240 L198 255 L196 268 L198 280 L204 290 L209 300 L212 308 L220 316 L226 325 L230 338 L230 346 L226 352 L211 350 L196 348 L184 350 L170 353 L171 341 L168 329 L164 310 L159 292 L153 280 L150 262 L140 245 L136 240 L150 236 L165 235 L177 232 L176 200 L170 190 L169 155 L160 147 L135 150 L110 147 L85 137 L59 134" fill="none" stroke="#80b300" stroke-width="3.2" stroke-linejoin="round"/></g>
<path fill="#338033" d="M154 277.5 L166 272 L179.4 268 L186 270 L192 274.4 L188 284 L185.8 293.4 L188 302 L192 309 L200 314 L208 318.8 L220.6 325 L224 334 L227 344 L224 350.4 L212 347 L201.6 344 L185.8 337.8 L176 330 L168.4 322 L166.8 312.4 L160.4 293.4Z"/>
<g filter="url(#b3)"><path fill="#80b300" d="M170 326 L185 336 L200 343 L212 346 L222 349 L214 352 L195 350 L175 352 L168 340Z"/></g>
<g filter="url(#b3)"><path fill="#80b300" d="M186 272 L192 276 L190 290 L194 305 L188 300 L184 288Z" opacity="0.7"/></g>
<path fill="#b46464" d="M190 287 L197 286 L204 293 L207 304 L203 310 L196 308 L190 300Z"/>
<rect x="198" y="282" width="5" height="4" fill="#8c9a9a"/><rect x="204" y="300" width="4" height="4" fill="#8c9a9a"/><rect x="207" y="290" width="3" height="5" fill="#8c9a9a"/><rect x="200" y="312" width="4" height="3" fill="#8c9a9a"/>
<rect x="205" y="296" width="3" height="3" fill="#28dcf0"/><rect x="211" y="308" width="3" height="3" fill="#28dcf0"/><rect x="216" y="318" width="3" height="3" fill="#28dcf0"/><rect x="196" y="280" width="3" height="3" fill="#28dcf0"/>
<rect x="146" y="233" width="4" height="6" fill="#14f5f5"/><rect x="152" y="240" width="5" height="4" fill="#14f5f5"/><rect x="160" y="236" width="3" height="5" fill="#14f5f5"/><rect x="167" y="243" width="4" height="4" fill="#14f5f5"/><rect x="174" y="238" width="3" height="4" fill="#14f5f5"/><rect x="158" y="250" width="4" height="3" fill="#14f5f5"/><rect x="180" y="250" width="3" height="5" fill="#14f5f5"/><rect x="170" y="258" width="4" height="3" fill="#14f5f5"/><rect x="186" y="245" width="3" height="3" fill="#14f5f5"/><rect x="148" y="252" width="3" height="4" fill="#14f5f5"/><rect x="164" y="226" width="4" height="3" fill="#14f5f5"/><rect x="183" y="232" width="3" height="4" fill="#14f5f5"/>
<rect x="189" y="258" width="4" height="4" fill="#8c9a9a"/><rect x="185" y="264" width="3" height="3" fill="#8c9a9a"/><rect x="193" y="250" width="3" height="4" fill="#8c9a9a"/>
<g filter="url(#b3)"><path fill="#80b300" d="M405 177 L425 173 L440 167 L448 161 L470 160 L490 160 L504 163 L510 172 L520 176 L535 178 L545 182 L552 190 L552 205 L537 225 L517 238.5 L488 232 L471 225 L461.5 219 L448 212 L438 210 L422 215 L405 216Z"/></g>
<g filter="url(#b2)"><path fill="#80b300" d="M479 29 L556 29 L556 73 L543 70 L532 66 L520 61 L511 56 L502 50 L494 43 L486 36Z"/></g>
<path d="M440 200 L448 199 L456 197 L465 196 L472 192 L478 189 L486 191 L494 192.5 L502 193 L511 191 L520 190 L527 189 L536 186 L543.5 182.7 L550 180" fill="none" stroke="#14e6f0" stroke-width="1.8" stroke-linejoin="round"/>
<path d="M441 179 L452 178 L462 178 L468 176" fill="none" stroke="#14e6f0" stroke-width="1.6"/>
<path d="M466 170 L467 177 L466 184" fill="none" stroke="#1e8cff" stroke-width="1.8"/>
<rect x="461.5" y="198.5" width="11" height="4" fill="#0014dc"/><rect x="469" y="196" width="3" height="7" fill="#0014dc"/>
<rect x="424" y="180" width="3" height="10" fill="#1e8cff"/><rect x="428" y="190" width="3" height="10" fill="#1e8cff"/><rect x="424" y="198" width="5" height="6" fill="#1e8cff"/><rect x="432" y="184" width="2" height="12" fill="#1e8cff"/><rect x="436" y="196" width="4" height="5" fill="#1e8cff"/><rect x="426" y="205" width="6" height="3" fill="#1e8cff"/>
<rect x="422" y="176" width="4" height="4" fill="#14e6f0"/><rect x="430" y="200" width="4" height="4" fill="#14e6f0"/><rect x="438" y="188" width="3" height="3" fill="#14e6f0"/>
<g filter="url(#b4)"><path d="M474 58 L480 66 L487 73 L495 78 L502 83" fill="none" stroke="#80b300" stroke-width="12" stroke-linejoin="round" stroke-linecap="round"/><path d="M520 94 L530 101 L542 108 L556 114" fill="none" stroke="#80b300" stroke-width="24" stroke-linejoin="round" stroke-linecap="round"/></g>
<g filter="url(#b2)"><path d="M436 106 L441 116 L444 128 L446 140" fill="none" stroke="#80b300" stroke-width="5" stroke-linejoin="round" stroke-linecap="round"/><path d="M405 98.5 L416 100 L425 103 L436 108" fill="none" stroke="#80b300" stroke-width="3" stroke-linejoin="round" stroke-linecap="round"/><path d="M419 142 L432 143 L447 144" fill="none" stroke="#80b300" stroke-width="3.6" stroke-linejoin="round" stroke-linecap="round"/></g>
<g filter="url(#b2)"><path d="M499.8 80.5 L514.1 81.5 L521.3 85.7 L520.3 90.8 L524.4 101 L522.3 107.2 L516.2 113.4 L508 121.6 L501.8 127.7 L497.7 132.9 L482.3 133.9 L473.1 136 L469 142 L467 146.2 L466 150.3 L464.9 158.5 L460.8 164.7 L456.7 162.6 L450.5 148.2 L446.4 138 L444.4 129.8 L444.4 125.7 L458.7 119.5 L471 115.4 L481.3 113.4 L491.6 111.3 L495.7 107.2 L497.7 101 L496.7 90.8 L497.7 84.6Z" fill="#80b300" stroke="#80b300" stroke-width="12" stroke-linejoin="round"/></g>
<path fill="#00d7ff" d="M444.4 125.7 L458.7 119.5 L471 115.4 L481.3 113.4 L482.3 133.9 L473.1 136 L469 142 L467 146.2 L466 150.3 L464.9 158.5 L460.8 164.7 L456.7 162.6 L450.5 148.2 L446.4 138 L444.4 129.8Z"/>
<path fill="#00aaff" d="M448.5 146 L466 146 L465 158 L461 164.7 L456.7 162.6Z"/>
<path fill="#00ffff" d="M499.8 80.5 L514.1 81.5 L521.3 85.7 L520.3 90.8 L524.4 101 L522.3 107.2 L516.2 113.4 L508 121.6 L501.8 127.7 L497.7 132.9 L482.3 133.9 L481.3 115.4 L491.6 111.3 L495.7 107.2 L497.7 101 L496.7 90.8 L497.7 84.6Z"/>
<rect x="483" y="117" width="3" height="3" fill="#80b300"/><rect x="451" y="130" width="3" height="3" fill="#80b300"/><rect x="497" y="104" width="3" height="3" fill="#80b300"/><rect x="513" y="89" width="3" height="3" fill="#80b300"/>
<path d="M512 29 L512.2 36 L513 42 L515 46.3 L519 49.5 L524 52 L532 52.6 L539 52.4 L545.3 50.6 L551.7 48.6 L557 47" fill="none" stroke="#00f5ff" stroke-width="3.4" stroke-linejoin="round"/>
<rect x="543" y="29" width="13" height="4.5" fill="#00f5ff"/>
<g clip-path="url(#landclip)"><g filter="url(#b4)"><path fill="#74aa08" d="M490 276 L505 272 L522 272 L533 280 L530 295 L518 303 L500 302 L492 292Z" opacity="0.7"/><path d="M486 318 L496 330 L508 346 L522 364 L540 380 L556 388" fill="none" stroke="#80b300" stroke-width="16" stroke-linecap="round" stroke-linejoin="round"/><path d="M500 378 L515 392 L535 402 L556 408" fill="none" stroke="#74aa08" stroke-width="9" stroke-linecap="round" stroke-linejoin="round" opacity="0.8"/><path fill="#80b300" d="M466 424 L490 420 L510 422 L524 430 L524 450 L515 466 L495 472 L475 468 L462 456 L460 440Z"/><path fill="#74aa08" d="M466 372 L480 370 L495 380 L500 400 L494 412 L480 410 L470 400 L464 385Z" opacity="0.6"/><path fill="#74aa08" d="M482 330 L500 325 L525 335 L556 345 L556 392 L530 394 L505 386 L490 370 L485 350Z" opacity="0.55"/><ellipse cx="526" cy="402" rx="32" ry="14" fill="#74aa08" opacity="0.5"/></g></g>
<path d="M451 342 L457.5 334 L468 327.5 L479 323.5 L484 322 L487 331.5 L495 342 L500 353 L501.7 363.6 L497.6 369 L492 373 L481.6 369 L471 363.6 L460 358 L452 350Z" fill="#80b300" stroke="#80b300" stroke-width="3.5" stroke-linejoin="round"/>
<path d="M451 342 L457.5 334 L468 327.5 L479 323.5 L484 322 L487 331.5 L495 342 L500 353 L501.7 363.6 L497.6 369 L492 373 L481.6 369 L471 363.6 L460 358 L452 350Z" fill="url(#bayg)"/>
<rect x="453" y="395" width="4" height="4" fill="#e6141e"/><rect x="459" y="394" width="4" height="4" fill="#e6141e"/><rect x="462" y="397" width="3" height="3" fill="#e6141e"/>
<rect x="456" y="397" width="4" height="5" fill="#a87878"/>
<rect x="497" y="417" width="12" height="5" fill="#b46464"/><rect x="497" y="421" width="5" height="6" fill="#b46464"/>
<rect x="497" y="416" width="4" height="3" fill="#14f0f0"/><rect x="491" y="399" width="2" height="2" fill="#14f0f0"/><rect x="487" y="383" width="2" height="2" fill="#14f0f0"/><rect x="473" y="396" width="2" height="2" fill="#14f0f0"/><rect x="474" y="352" width="2" height="2" fill="#14f0f0"/>
</g>
<rect x="59.5" y="29.5" width="496" height="457" fill="none" stroke="#000" stroke-width="1.11"/>
<line x1="59.50" y1="487" x2="59.50" y2="491.4" stroke="#000" stroke-width="1.11"/>
<text font-size="13.889" transform="translate(36.66 523.72) rotate(-20)">−123.2</text>
<line x1="155.50" y1="487" x2="155.50" y2="491.4" stroke="#000" stroke-width="1.11"/>
<text font-size="13.889" transform="translate(132.66 523.72) rotate(-20)">−123.1</text>
<line x1="250.50" y1="487" x2="250.50" y2="491.4" stroke="#000" stroke-width="1.11"/>
<text font-size="13.889" transform="translate(227.66 523.72) rotate(-20)">−123.0</text>
<line x1="346.50" y1="487" x2="346.50" y2="491.4" stroke="#000" stroke-width="1.11"/>
<text font-size="13.889" transform="translate(323.66 523.72) rotate(-20)">−122.9</text>
<line x1="441.50" y1="487" x2="441.50" y2="491.4" stroke="#000" stroke-width="1.11"/>
<text font-size="13.889" transform="translate(418.66 523.72) rotate(-20)">−122.8</text>
<line x1="536.50" y1="487" x2="536.50" y2="491.4" stroke="#000" stroke-width="1.11"/>
<text font-size="13.889" transform="translate(513.66 523.72) rotate(-20)">−122.7</text>
<line x1="54.2" y1="457.50" x2="59" y2="457.50" stroke="#000" stroke-width="1.11"/>
<text font-size="13.889" text-anchor="end" x="49.78" y="462.78">48.90</text>
<line x1="54.2" y1="386.50" x2="59" y2="386.50" stroke="#000" stroke-width="1.11"/>
<text font-size="13.889" text-anchor="end" x="49.78" y="391.78">48.95</text>
<line x1="54.2" y1="315.50" x2="59" y2="315.50" stroke="#000" stroke-width="1.11"/>
<text font-size="13.889" text-anchor="end" x="49.78" y="320.78">49.00</text>
<line x1="54.2" y1="243.50" x2="59" y2="243.50" stroke="#000" stroke-width="1.11"/>
<text font-size="13.889" text-anchor="end" x="49.78" y="248.78">49.05</text>
<line x1="54.2" y1="172.50" x2="59" y2="172.50" stroke="#000" stroke-width="1.11"/>
<text font-size="13.889" text-anchor="end" x="49.78" y="177.78">49.10</text>
<line x1="54.2" y1="101.50" x2="59" y2="101.50" stroke="#000" stroke-width="1.11"/>
<text font-size="13.889" text-anchor="end" x="49.78" y="106.78">49.15</text>
<line x1="54.2" y1="29.50" x2="59" y2="29.50" stroke="#000" stroke-width="1.11"/>
<text font-size="13.889" text-anchor="end" x="49.78" y="34.78">49.20</text>
<text font-size="16.667" text-anchor="middle" x="307.75" y="21.17">6:00:00 after earthquake</text>
<rect x="586.5" y="69.5" width="19" height="377" fill="url(#cb)" stroke="#000" stroke-width="1.11"/>
<line x1="606" y1="446.50" x2="610.8" y2="446.50" stroke="#000" stroke-width="1.11"/>
<text font-size="13.889" x="615.72" y="451.78">−1.5</text>
<line x1="606" y1="383.50" x2="610.8" y2="383.50" stroke="#000" stroke-width="1.11"/>
<text font-size="13.889" x="615.72" y="388.78">−1.0</text>
<line x1="606" y1="320.50" x2="610.8" y2="320.50" stroke="#000" stroke-width="1.11"/>
<text font-size="13.889" x="615.72" y="325.78">−0.5</text>
<line x1="606" y1="258.50" x2="610.8" y2="258.50" stroke="#000" stroke-width="1.11"/>
<text font-size="13.889" x="615.72" y="263.78">0.0</text>
<line x1="606" y1="195.50" x2="610.8" y2="195.50" stroke="#000" stroke-width="1.11"/>
<text font-size="13.889" x="615.72" y="200.78">0.5</text>
<line x1="606" y1="132.50" x2="610.8" y2="132.50" stroke="#000" stroke-width="1.11"/>
<text font-size="13.889" x="615.72" y="137.78">1.0</text>
<line x1="606" y1="69.50" x2="610.8" y2="69.50" stroke="#000" stroke-width="1.11"/>
<text font-size="13.889" x="615.72" y="74.78">1.5</text>
</svg></body></html>
